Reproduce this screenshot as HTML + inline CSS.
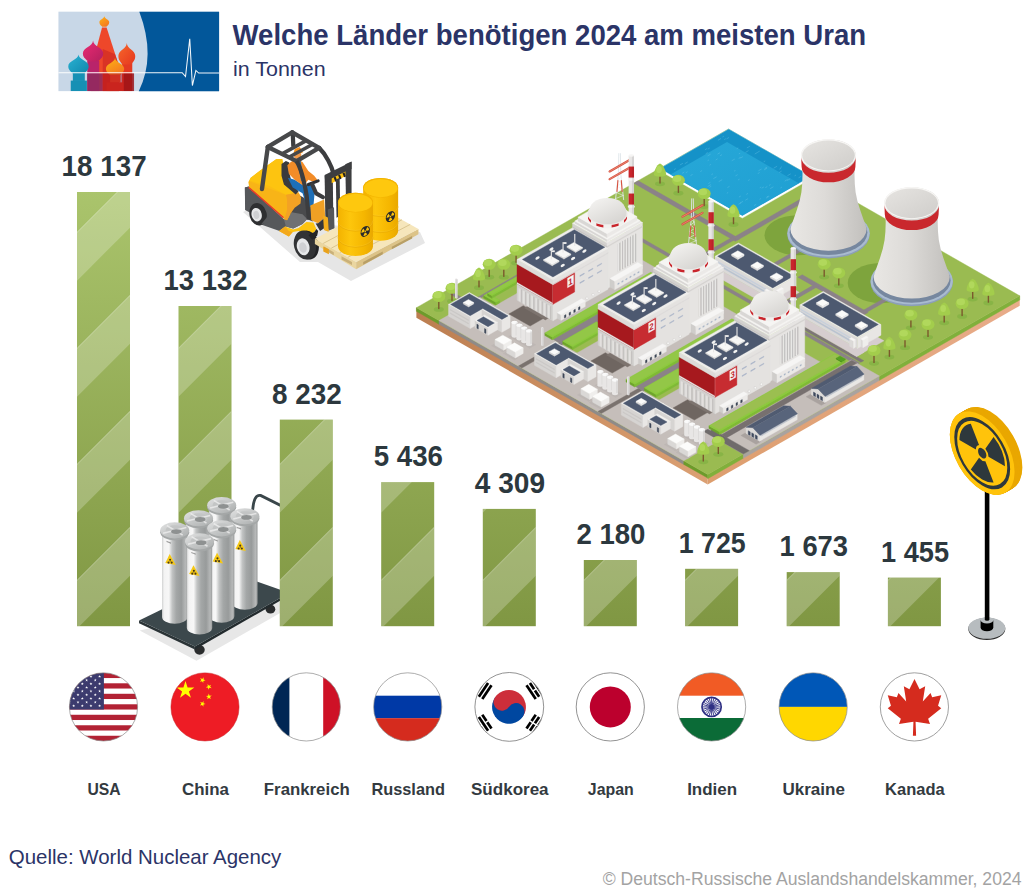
<!DOCTYPE html>
<html lang="de"><head><meta charset="utf-8"><title>Welche Länder benötigen 2024 am meisten Uran</title>
<style>html,body{margin:0;padding:0;background:#fff}body{width:1024px;height:893px;overflow:hidden}svg{display:block}text{font-family:"Liberation Sans",sans-serif}</style></head><body>
<svg width="1024" height="893" viewBox="0 0 1024 893">
<defs>
<linearGradient id="barg" gradientUnits="userSpaceOnUse" x1="0" y1="192" x2="0" y2="626">
<stop offset="0" stop-color="#aac46c"/><stop offset="1" stop-color="#809743"/></linearGradient>
</defs>
<rect width="1024" height="893" fill="#fff"/>
<g transform="translate(50 5) scale(0.17578)">
<defs><clipPath id="lgc"><rect x="48" y="38" width="914" height="452"/></clipPath><linearGradient id="lgt" x1="0" y1="0" x2="1" y2="1"><stop offset="0" stop-color="#2bb3d3"/><stop offset="1" stop-color="#0f87ad"/></linearGradient><linearGradient id="lgm" x1="0" y1="0" x2="1" y2="1"><stop offset="0" stop-color="#ec2a72"/><stop offset="1" stop-color="#b3205f"/></linearGradient><linearGradient id="lgr" x1="0" y1="0" x2="1" y2="1"><stop offset="0" stop-color="#f7682a"/><stop offset="1" stop-color="#e5371f"/></linearGradient><linearGradient id="lgy" x1="0" y1="0" x2="0.6" y2="1"><stop offset="0" stop-color="#fdb515"/><stop offset="1" stop-color="#f47a20"/></linearGradient></defs>
<rect x="48" y="38" width="914" height="452" fill="#c8d7e7" />
<path d="M508 38 Q604 290 505 490 L962 490 L962 38 Z" fill="#02579a"/>
<g clip-path="url(#lgc)">
<polygon points="296,128 322,128 392,345 392,490 232,490 232,370" fill="#ee472a"/>
<polygon points="300,250 370,280 392,345 392,490 300,490" fill="#d93325"/>
<path d="M309 62 C308 78.2 281 81.8 281 98 C281 113.6 294 117.5 297 124 L321 124 C324 117.5 337 113.6 337 98 C337 81.8 310 78.2 309 62 Z" fill="url(#lgy)"/>
<rect x="410" y="330" width="58" height="160" fill="#e43a22" />
<path d="M437 216 C436 249.3 389 256.7 389 290 C389 318.8 407 326 410 338 L464 338 C467 326 485 318.8 485 290 C485 256.7 438 249.3 437 216 Z" fill="url(#lgr)"/>
<rect x="212" y="318" width="68" height="172" fill="#b9246a" />
<path d="M245 202 C244 235.3 187 242.7 187 276 C187 303.6 212 310.5 215 322 L275 322 C278 310.5 303 303.6 303 276 C303 242.7 246 235.3 245 202 Z" fill="url(#lgm)"/>
<rect x="130" y="380" width="68" height="52" fill="#1690b4" />
<rect x="118" y="430" width="92" height="60" fill="#1690b4" />
<path d="M162 282 C161 311.7 104 318.3 104 348 C104 372 123 378 126 388 L198 388 C201 378 220 372 220 348 C220 318.3 163 311.7 162 282 Z" fill="url(#lgt)"/>
<rect x="342" y="392" width="58" height="50" fill="#f0532a" />
<rect x="322" y="440" width="96" height="50" fill="#e43a22" />
<path d="M370 300 C369 327.9 318 334.1 318 362 C318 383.6 337 389 340 398 L400 398 C403 389 422 383.6 422 362 C422 334.1 371 327.9 370 300 Z" fill="url(#lgy)"/>
<rect x="212" y="388" width="88" height="102" fill="#8e2a5e" fill-opacity="0.85"/>
<rect x="300" y="388" width="178" height="102" fill="#b5121b" fill-opacity="0.55"/>
<rect x="420" y="388" width="58" height="102" fill="#8e0f14" fill-opacity="0.6"/>
</g>
<path d="M48 385 L752 385 L771 407 L795 192 L810 458 L830 372 L846 387 L962 387" fill="none" stroke="#fff" stroke-width="6" stroke-linejoin="miter" stroke-opacity="0.95"/>
</g>
<text x="232.6" y="44.9" font-size="29.2" fill="#2b3467" font-weight="bold" text-anchor="start" textLength="633.5" lengthAdjust="spacingAndGlyphs">Welche Länder benötigen 2024 am meisten Uran</text>
<text x="233" y="76.4" font-size="20.8" fill="#2b3467" font-weight="normal" text-anchor="start" textLength="92.6" lengthAdjust="spacingAndGlyphs">in Tonnen</text>
<text x="8.8" y="864.3" font-size="20.3" fill="#2b3467" font-weight="normal" text-anchor="start" textLength="272.5" lengthAdjust="spacingAndGlyphs">Quelle: World Nuclear Agency</text>
<text x="602.7" y="884.7" font-size="18" fill="#a3a3a3" font-weight="normal" text-anchor="start" textLength="418.8" lengthAdjust="spacingAndGlyphs">© Deutsch-Russische Auslandshandelskammer, 2024</text>
<g id="plant" stroke-width="0.4" stroke-linejoin="round">
<defs><linearGradient id="soilL" gradientUnits="userSpaceOnUse" x1="416.4" y1="0" x2="707.7" y2="0"><stop offset="0" stop-color="#bc7e50"/><stop offset="1" stop-color="#dba073"/></linearGradient><linearGradient id="soilR" gradientUnits="userSpaceOnUse" x1="707" y1="0" x2="1020" y2="0"><stop offset="0" stop-color="#dd9e6e"/><stop offset="1" stop-color="#e8ac8a"/></linearGradient><linearGradient id="ctg" x1="0" y1="0" x2="1" y2="0"><stop offset="0" stop-color="#e9e7e4"/><stop offset="0.45" stop-color="#dddbd8"/><stop offset="1" stop-color="#c2c0bd"/></linearGradient><linearGradient id="cti" x1="0" y1="0" x2="1" y2="1"><stop offset="0" stop-color="#e6e4e1"/><stop offset="1" stop-color="#cfcdca"/></linearGradient><linearGradient id="domeg" x1="0.2" y1="0" x2="0.9" y2="1"><stop offset="0" stop-color="#f3f2f0"/><stop offset="1" stop-color="#d4d2cf"/></linearGradient><linearGradient id="poolg" x1="0" y1="0" x2="1" y2="1"><stop offset="0" stop-color="#27a8d8"/><stop offset="1" stop-color="#1f9fd2"/></linearGradient></defs><polygon points="416.4,317.7 707.7,484.49 707.7,474.49 416.4,307.7" fill="url(#soilL)"/><polygon points="707.7,484.49 1019.75,305.82 1019.75,295.82 707.7,474.49" fill="url(#soilR)"/><polygon points="416.4,311.3 438.97,324.22 438.97,320.62 416.4,307.7" fill="#6c9b2b" stroke="#6c9b2b"/><polygon points="438.97,324.22 683.74,464.38 683.74,460.78 438.97,320.62" fill="#8e8b89" stroke="#8e8b89"/><polygon points="683.74,464.38 707.7,478.09 707.7,474.49 683.74,460.78" fill="#6c9b2b" stroke="#6c9b2b"/><polygon points="707.7,478.69 743.29,458.32 743.29,454.12 707.7,474.49" fill="#80b03b" stroke="#80b03b"/><polygon points="743.29,458.32 879.56,380.29 879.56,376.09 743.29,454.12" fill="#a8a3a0" stroke="#a8a3a0"/><polygon points="879.56,380.29 1019.75,300.02 1019.75,295.82 879.56,376.09" fill="#80b03b" stroke="#80b03b"/><polygon points="416.4,307.7 728.45,129.03 1019.75,295.82 707.7,474.49" fill="#9abb51" stroke="#9abb51"/>
<polygon points="657.88,169.73 728.71,129.18 813.16,177.54 742.33,218.09" fill="#ffffff" stroke="#ffffff"/><polygon points="660.13,168.44 728.71,129.18 810.91,176.24 742.33,215.51" fill="#1592c8" stroke="#1592c8"/><polygon points="670.55,174.4 726.97,142.1 798.75,183.2 742.33,215.51" fill="url(#poolg)"/><path d="M690.45 175.64l2.16 -1.24M682.05 173.38l2.17 -1.24M784.72 181.1l2.96 -1.7M715.71 159.94l1.9 -1.09M685.81 172.77l1.77 -1.01M787.18 180.53l3.05 -1.75M738.9 197.1l1.97 -1.13M758.41 170.8l3.16 -1.81M738.47 204.28l2.62 -1.5M748.08 180.61l1.69 -0.97M707.69 186.47l3.33 -1.91M765.37 187.61l1.95 -1.12M770.17 188.64l3.22 -1.84M761.66 188.21l2.2 -1.26M737.99 180.05l1.65 -0.95M738.81 153.97l1.4 -0.8M707.79 149.17l1.91 -1.09M735.54 175.85l2.05 -1.17M754.01 205.6l2.2 -1.26M720.08 155.76l1.9 -1.09M738.68 158.46l2 -1.14M763.67 161.82l1.52 -0.87M684.81 163.66l2.96 -1.7M727.48 187.5l2.02 -1.16M707.62 160.71l1.39 -0.8M773.73 168.16l3.37 -1.93M780.47 167.57l1.34 -0.77M746.9 147.93l2.98 -1.71M754.77 154.01l2.65 -1.52M746.3 194.38l1.72 -0.98M708.31 183.55l2.13 -1.22M759.56 199.33l1.32 -0.76M679.92 164.99l3 -1.72M711.46 174.65l1.51 -0.87M766.7 196.98l1.75 -1M674.09 169.6l1.67 -0.96M726.83 193.23l1.39 -0.8M718.69 181.66l3.47 -1.99M707.67 155.85l2.98 -1.71M757.38 152.42l2.34 -1.34M709.57 165.19l1.38 -0.79M713.38 178.65l3.23 -1.85M759.77 187.81l1.37 -0.78M700.3 171.59l1.75 -1M736.67 148.77l1.61 -0.92M726.5 138.89l2.53 -1.45M766.1 198.09l3.26 -1.86M764.05 169.93l2.92 -1.67M709.48 187.25l1.76 -1.01M787.4 175.72l3.31 -1.89M731.75 160.75l3.04 -1.74M764.63 168.59l2.45 -1.4M757.73 173.61l1.88 -1.08M794.56 175.89l1.46 -0.84M798.57 177.8l2.75 -1.58M724.22 139.6l1.58 -0.9M780.48 187.94l1.43 -0.82M717.54 154.13l2.54 -1.45M779.39 169.21l1.78 -1.02M722.5 136.99l1.33 -0.76M739.97 203.11l3.06 -1.75M779.15 172.52l2.5 -1.43M745.35 200.22l2.76 -1.58M745.56 152.33l2.98 -1.71M734.09 171.18l1.36 -0.78M704.93 149.75l2.36 -1.35M768.99 185.47l1.6 -0.92M740.45 158.04l2.44 -1.4M717.91 140.25l3.1 -1.77M705.71 153.74l2.13 -1.22" stroke="#7fd0ee" stroke-width="0.5" stroke-opacity="0.6" fill="none"/>
<ellipse cx="797.5" cy="235.2" rx="33" ry="20" fill="#7ea43d"/>
<ellipse cx="880.7" cy="283" rx="33" ry="20" fill="#7ea43d"/>
<polygon points="633.83,183.2 638.17,180.72 739.73,238.87 735.39,241.35" fill="#8b8288" stroke="#8b8288"/><polygon points="797.89,277.13 802.23,274.65 868.19,312.42 863.85,314.91" fill="#8b8288" stroke="#8b8288"/><polygon points="773.15,263.47 803.53,246.07 807,248.06 776.62,265.45" fill="#8b8288" stroke="#8b8288"/><polygon points="733.22,237.62 804.4,196.87 808.74,199.35 737.56,240.11" fill="#8b8288" stroke="#8b8288"/><polygon points="859.51,312.42 885.12,297.76 888.59,299.75 862.99,314.41" fill="#8b8288" stroke="#8b8288"/><polygon points="612.74,225.1 615.87,223.31 859.77,362.97 856.65,364.76" fill="#8b8288" stroke="#8b8288"/><polygon points="764.47,307.2 767.51,305.46 863.85,360.63 860.82,362.37" fill="#7d7677" stroke="#7d7677"/><polygon points="767.07,311.68 814.81,284.34 818.28,286.33 770.54,313.66" fill="#8b8288" stroke="#8b8288"/><polygon points="684.61,264.46 732.35,237.13 735.82,239.11 688.08,266.45" fill="#8b8288" stroke="#8b8288"/><polygon points="467.44,303.13 611.53,220.63 613.7,221.87 469.61,304.37" fill="#8b8288" stroke="#8b8288"/><polygon points="450.25,294.28 453.29,292.54 471.78,303.13 468.74,304.87" fill="#8b8288" stroke="#8b8288"/>
<polygon points="438.97,320.62 479.76,297.26 724.54,437.42 683.74,460.78" fill="#c5beba" stroke="#c5beba"/><polygon points="714.99,437.91 851.27,359.88 879.56,376.09 743.29,454.12" fill="#c5beba" stroke="#c5beba"/><polygon points="721.5,434.68 851.7,360.13 856.91,363.12 726.71,437.67" fill="#77706f" stroke="#77706f"/><polygon points="703.71,431.45 709.78,427.97 749.36,450.64 743.29,454.12" fill="#6f6b6b" stroke="#6f6b6b"/><polygon points="518.39,366.1 559.19,342.74 562.66,344.73 521.86,368.09" fill="#7a726e" stroke="#7a726e"/><polygon points="597.81,411.57 638.61,388.21 642.08,390.2 601.28,413.56" fill="#7a726e" stroke="#7a726e"/><polygon points="494.09,306.46 608.66,240.85 660.74,270.67 546.17,336.28" fill="#c5beba" stroke="#c5beba"/><polygon points="508.84,313.91 523.25,305.66 544.52,317.84 530.11,326.09" fill="#6f6661" stroke="#6f6661"/><polygon points="524.47,307.95 527.94,305.96 548.77,317.89 545.3,319.88" fill="#7d746f" stroke="#7d746f"/><polygon points="576.2,353.47 690.77,287.87 742.85,317.69 628.28,383.29" fill="#c5beba" stroke="#c5beba"/><polygon points="590.95,360.93 605.36,352.68 626.63,364.86 612.22,373.11" fill="#6f6661" stroke="#6f6661"/><polygon points="606.58,354.96 610.05,352.98 630.88,364.9 627.41,366.89" fill="#7d746f" stroke="#7d746f"/><polygon points="658.31,400.49 772.89,334.89 824.97,364.71 710.39,430.31" fill="#c5beba" stroke="#c5beba"/><polygon points="673.07,407.94 687.48,399.69 708.74,411.87 694.33,420.12" fill="#6f6661" stroke="#6f6661"/><polygon points="688.69,401.98 692.16,399.99 713,411.92 709.52,413.91" fill="#7d746f" stroke="#7d746f"/><polygon points="705.01,269.68 712.39,265.45 779.22,303.72 771.85,307.95" fill="#d6cdcf" stroke="#d6cdcf"/><polygon points="764.9,303.97 792.24,288.32 799.19,292.29 771.85,307.95" fill="#d6cdcf" stroke="#d6cdcf"/><polygon points="789.81,318.24 797.19,314.01 864.03,352.28 856.65,356.51" fill="#d6cdcf" stroke="#d6cdcf"/><polygon points="849.71,352.53 877.05,336.87 883.99,340.85 856.65,356.51" fill="#d6cdcf" stroke="#d6cdcf"/>
<polygon points="483.67,298.01 495.82,304.97 495.82,302.37 483.67,295.41" fill="#6ea42c" stroke="#6ea42c"/><polygon points="495.82,304.97 499.73,302.73 499.73,300.13 495.82,302.37" fill="#7fba36" stroke="#7fba36"/><polygon points="483.67,295.41 487.58,293.17 499.73,300.13 495.82,302.37" fill="#8ccb3c" stroke="#8ccb3c"/><polygon points="485.58,294.91 487.58,293.77 497.82,299.63 495.82,300.78" fill="#93c747" stroke="#93c747"/><polygon points="487.58,295.77 491.92,298.26 491.92,295.66 487.58,293.17" fill="#6ea42c" stroke="#6ea42c"/><polygon points="491.92,298.26 525.77,278.87 525.77,276.27 491.92,295.66" fill="#7fba36" stroke="#7fba36"/><polygon points="487.58,293.17 521.43,273.79 525.77,276.27 491.92,295.66" fill="#8ccb3c" stroke="#8ccb3c"/><polygon points="489.49,292.67 521.43,274.39 523.86,275.78 491.92,294.07" fill="#93c747" stroke="#93c747"/><polygon points="553.11,339.26 658.14,279.12 666.82,284.09 561.79,344.23" fill="#8b8288" stroke="#8b8288"/><polygon points="544.86,335.53 552.24,339.76 552.24,337.16 544.86,332.93" fill="#6ea42c" stroke="#6ea42c"/><polygon points="552.24,339.76 658.14,279.12 658.14,276.52 552.24,337.16" fill="#7fba36" stroke="#7fba36"/><polygon points="544.86,332.93 650.76,272.3 658.14,276.52 552.24,337.16" fill="#8ccb3c" stroke="#8ccb3c"/><polygon points="546.77,332.43 650.76,272.89 656.23,276.03 552.24,335.57" fill="#93c747" stroke="#93c747"/><polygon points="562.66,343.73 572.64,349.45 572.64,346.85 562.66,341.13" fill="#6ea42c" stroke="#6ea42c"/><polygon points="572.64,349.45 606.49,330.06 606.49,327.46 572.64,346.85" fill="#7fba36" stroke="#7fba36"/><polygon points="562.66,341.13 596.51,321.75 606.49,327.46 572.64,346.85" fill="#8ccb3c" stroke="#8ccb3c"/><polygon points="564.57,340.64 596.51,322.35 604.58,326.97 572.64,345.26" fill="#93c747" stroke="#93c747"/><polygon points="635.57,386.47 740.6,326.34 748.41,330.81 643.38,390.95" fill="#8b8288" stroke="#8b8288"/><polygon points="626.02,382 634.7,386.97 634.7,384.37 626.02,379.4" fill="#6ea42c" stroke="#6ea42c"/><polygon points="634.7,386.97 740.6,326.34 740.6,323.74 634.7,384.37" fill="#7fba36" stroke="#7fba36"/><polygon points="626.02,379.4 731.92,318.77 740.6,323.74 634.7,384.37" fill="#8ccb3c" stroke="#8ccb3c"/><polygon points="627.93,378.9 731.92,319.36 738.69,323.24 634.7,382.78" fill="#93c747" stroke="#93c747"/><polygon points="644.25,390.45 655.97,397.16 655.97,394.56 644.25,387.85" fill="#6ea42c" stroke="#6ea42c"/><polygon points="655.97,397.16 689.82,377.78 689.82,375.18 655.97,394.56" fill="#7fba36" stroke="#7fba36"/><polygon points="644.25,387.85 678.1,368.47 689.82,375.18 655.97,394.56" fill="#8ccb3c" stroke="#8ccb3c"/><polygon points="646.16,387.35 678.1,369.06 687.91,374.68 655.97,392.97" fill="#93c747" stroke="#93c747"/><polygon points="708.92,428.47 719.33,434.44 719.33,431.83 708.92,425.87" fill="#6ea42c" stroke="#6ea42c"/><polygon points="719.33,434.44 845.19,362.37 845.19,359.77 719.33,431.83" fill="#7fba36" stroke="#7fba36"/><polygon points="708.92,425.87 834.78,353.81 845.19,359.77 719.33,431.83" fill="#8ccb3c" stroke="#8ccb3c"/><polygon points="711.17,425.18 834.78,354.4 842.94,359.07 719.33,429.85" fill="#9bbf50" stroke="#9bbf50"/><polygon points="836.08,359.02 841.29,362.01 841.29,361.21 836.08,358.22" fill="#3f8415" stroke="#3f8415"/><polygon points="841.29,362.01 845.19,359.77 845.19,358.97 841.29,361.21" fill="#4a951b" stroke="#4a951b"/><polygon points="836.08,358.22 839.98,355.99 845.19,358.97 841.29,361.21" fill="#55a022" stroke="#55a022"/>
<g stroke-linecap="round" fill="none"><path d="M615.6 198.6 L618.4 173.85 L618.8 153.6 M623.6 199.6 L620.8 173.85 L620.4 153.6" stroke="#dfe5ea" stroke-width="0.9"/><path d="M615.6 198.6L623.27 195.5M623.27 195.5L616.27 192.4M616.27 192.4L622.6 189.3M622.6 189.3L616.93 186.2M616.93 186.2L621.93 183.1M621.93 183.1L617.6 180M617.6 180L621.27 176.9M621.27 176.9L618.27 173.8M618.27 173.8L620.6 170.7" stroke="#e9eef2" stroke-width="0.6"/><path d="M617 191.4 L617.9 180.6 M622.2 191.4 L621.3 180.6" stroke="#d8523f" stroke-width="1.1"/><path d="M609.6 179.1 L629.6 167.7" stroke="#d8523f" stroke-width="2.2"/><path d="M609.6 179.1 L629.6 167.7" stroke="#f0b0a0" stroke-width="0.5"/><path d="M609.6 171.45 L629.6 160.05" stroke="#d8523f" stroke-width="2.2"/><path d="M609.6 171.45 L629.6 160.05" stroke="#f0b0a0" stroke-width="0.5"/></g>
<rect x="628.62" y="155.55" width="5.4" height="60.5" fill="#e9e7e6"/><rect x="628.62" y="166.55" width="5.4" height="11" fill="#c9252c"/><rect x="628.62" y="193.55" width="5.4" height="11" fill="#c9252c"/><rect x="627.82" y="178.55" width="7" height="2.2" rx="1" fill="#f4f3f2"/><rect x="627.82" y="205.55" width="7" height="2.2" rx="1" fill="#f4f3f2"/><rect x="631.92" y="155.55" width="2.1" height="60.5" fill="#000" fill-opacity="0.08"/><ellipse cx="631.32" cy="155.55" rx="2.7" ry="1.3" fill="#f6f5f4"/>
<ellipse cx="660" cy="183.8" rx="5" ry="2.4" fill="#88b446"/><rect x="659.3" y="173.5" width="1.4" height="10" fill="#7b5a2c"/><path d="M660 163.5 C663.5 164.5 666.6 172.5 666 175 C665 177.2 655 177.2 654 175 C653.4 172.5 656.5 164.5 660 163.5 Z" fill="#a3cd4c"/><ellipse cx="659" cy="169.5" rx="2.8" ry="3.6" fill="#b1d85c"/>
<ellipse cx="678.4" cy="193.2" rx="5" ry="2.4" fill="#88b446"/><rect x="677.7" y="182.9" width="1.4" height="10" fill="#7b5a2c"/><ellipse cx="678.4" cy="180.3" rx="6.5" ry="5.5" fill="#a3cd4c"/><ellipse cx="677.1" cy="178.7" rx="4.2" ry="3.3" fill="#b1d85c"/>
<ellipse cx="704.2" cy="206.5" rx="5" ry="2.4" fill="#88b446"/><rect x="703.5" y="196.2" width="1.4" height="10" fill="#7b5a2c"/><ellipse cx="704.2" cy="193.6" rx="6.5" ry="5.5" fill="#a3cd4c"/><ellipse cx="702.9" cy="192" rx="4.2" ry="3.3" fill="#b1d85c"/>
<ellipse cx="733.5" cy="224.5" rx="5" ry="2.4" fill="#88b446"/><rect x="732.8" y="214.2" width="1.4" height="10" fill="#7b5a2c"/><path d="M733.5 204.2 C737 205.2 740.1 213.2 739.5 215.7 C738.5 217.9 728.5 217.9 727.5 215.7 C726.9 213.2 730 205.2 733.5 204.2 Z" fill="#a3cd4c"/><ellipse cx="732.5" cy="210.2" rx="2.8" ry="3.6" fill="#b1d85c"/>
<ellipse cx="828.5" cy="234.8" rx="41.2" ry="23.6" fill="#8c9fb8"/><ellipse cx="828.5" cy="233.2" rx="41.2" ry="23.6" fill="#a9bbd0"/><ellipse cx="828.5" cy="232.6" rx="38.9" ry="22.3" fill="#76879f"/><path d="M790.4 229 L791.3 225.8 L793.7 219 L796.8 210.1 L799.6 201 L801.4 192.2 L802.2 184 L802.5 175 L802.3 167 L801.8 161 L801.1 155.2 A27.4 15.8 0 0 1 855.9 155.2 L855.2 161 L854.7 167 L854.5 175 L854.8 184 L855.6 192.2 L857.4 201 L860.2 210.1 L863.3 219 L865.7 225.8 L866.6 229 A38.1 21.8 0 0 1 790.4 229 Z" fill="url(#ctg)"/><path d="M801.6 166.8 A26.9 15.52 0 0 0 855.4 166.8 L855.8 157 A27.3 15.75 0 0 1 801.2 157 Z" fill="#c9282d"/><ellipse cx="828.5" cy="155.2" rx="27.6" ry="16.0" fill="#f7f6f4"/><ellipse cx="828.5" cy="155.5" rx="26.3" ry="14.9" fill="url(#cti)"/>
<ellipse cx="824.2" cy="277.1" rx="5" ry="2.4" fill="#88b446"/><rect x="823.5" y="266.8" width="1.4" height="10" fill="#7b5a2c"/><ellipse cx="824.2" cy="264.2" rx="6.5" ry="5.5" fill="#a3cd4c"/><ellipse cx="822.9" cy="262.6" rx="4.2" ry="3.3" fill="#b1d85c"/>
<ellipse cx="838.8" cy="285.8" rx="5" ry="2.4" fill="#88b446"/><rect x="838.1" y="275.5" width="1.4" height="10" fill="#7b5a2c"/><ellipse cx="838.8" cy="272.9" rx="6.5" ry="5.5" fill="#a3cd4c"/><ellipse cx="837.5" cy="271.3" rx="4.2" ry="3.3" fill="#b1d85c"/>
<ellipse cx="911.7" cy="282.6" rx="41.2" ry="23.6" fill="#8c9fb8"/><ellipse cx="911.7" cy="281" rx="41.2" ry="23.6" fill="#a9bbd0"/><ellipse cx="911.7" cy="280.4" rx="38.9" ry="22.3" fill="#76879f"/><path d="M873.6 276.8 L874.5 273.6 L876.9 266.8 L880 257.9 L882.8 248.8 L884.6 240 L885.4 231.8 L885.7 222.8 L885.5 214.8 L885 208.8 L884.3 203 A27.4 15.8 0 0 1 939.1 203 L938.4 208.8 L937.9 214.8 L937.7 222.8 L938 231.8 L938.8 240 L940.6 248.8 L943.4 257.9 L946.5 266.8 L948.9 273.6 L949.8 276.8 A38.1 21.8 0 0 1 873.6 276.8 Z" fill="url(#ctg)"/><path d="M884.8 214.6 A26.9 15.52 0 0 0 938.6 214.6 L939 204.8 A27.3 15.75 0 0 1 884.4 204.8 Z" fill="#c9282d"/><ellipse cx="911.7" cy="203" rx="27.6" ry="16.0" fill="#f7f6f4"/><ellipse cx="911.7" cy="203.3" rx="26.3" ry="14.9" fill="url(#cti)"/>
<ellipse cx="516.1" cy="263.1" rx="5" ry="2.4" fill="#88b446"/><rect x="515.4" y="252.8" width="1.4" height="10" fill="#7b5a2c"/><ellipse cx="516.1" cy="250.2" rx="6.5" ry="5.5" fill="#a3cd4c"/><ellipse cx="514.8" cy="248.6" rx="4.2" ry="3.3" fill="#b1d85c"/>
<ellipse cx="503.8" cy="277.2" rx="5" ry="2.4" fill="#88b446"/><rect x="503.1" y="266.9" width="1.4" height="10" fill="#7b5a2c"/><ellipse cx="503.8" cy="264.3" rx="6.5" ry="5.5" fill="#a3cd4c"/><ellipse cx="502.5" cy="262.7" rx="4.2" ry="3.3" fill="#b1d85c"/>
<ellipse cx="489.2" cy="277.2" rx="5" ry="2.4" fill="#88b446"/><rect x="488.5" y="266.9" width="1.4" height="10" fill="#7b5a2c"/><ellipse cx="489.2" cy="264.3" rx="6.5" ry="5.5" fill="#a3cd4c"/><ellipse cx="487.9" cy="262.7" rx="4.2" ry="3.3" fill="#b1d85c"/>
<ellipse cx="479" cy="287.7" rx="5" ry="2.4" fill="#88b446"/><rect x="478.3" y="277.4" width="1.4" height="10" fill="#7b5a2c"/><path d="M479 267.4 C482.5 268.4 485.6 276.4 485 278.9 C484 281.1 474 281.1 473 278.9 C472.4 276.4 475.5 268.4 479 267.4 Z" fill="#a3cd4c"/><ellipse cx="478" cy="273.4" rx="2.8" ry="3.6" fill="#b1d85c"/>
<ellipse cx="452" cy="301.2" rx="5" ry="2.4" fill="#88b446"/><rect x="451.3" y="290.9" width="1.4" height="10" fill="#7b5a2c"/><ellipse cx="452" cy="288.3" rx="6.5" ry="5.5" fill="#a3cd4c"/><ellipse cx="450.7" cy="286.7" rx="4.2" ry="3.3" fill="#b1d85c"/>
<ellipse cx="438.8" cy="309.4" rx="5" ry="2.4" fill="#88b446"/><rect x="438.1" y="299.1" width="1.4" height="10" fill="#7b5a2c"/><ellipse cx="438.8" cy="296.5" rx="6.5" ry="5.5" fill="#a3cd4c"/><ellipse cx="437.5" cy="294.9" rx="4.2" ry="3.3" fill="#b1d85c"/>
<rect x="455.04" y="278.41" width="2.4" height="20" rx="1.2" fill="#e4e2e2"/><rect x="456.44" y="279.41" width="1" height="19" fill="#cfcdcd"/>
<polygon points="714.99,266.95 772.71,300 772.71,289.4 714.99,256.35" fill="#dbd9d8" stroke="#dbd9d8"/><polygon points="715.86,264.24 765.77,292.82 765.77,291.42 715.86,262.84" fill="#b8c2d0" stroke="#b8c2d0"/><polygon points="715.86,261.44 765.77,290.02 765.77,288.82 715.86,260.24" fill="#c6cfdb" stroke="#c6cfdb"/><polygon points="772.71,300 796.15,286.58 796.15,275.98 772.71,289.4" fill="#e8e6e4" stroke="#e8e6e4"/><polygon points="714.99,256.35 738.43,242.93 796.15,275.98 772.71,289.4" fill="#efeeec" stroke="#efeeec"/><polygon points="717.6,256.35 738.43,244.42 793.55,275.98 772.71,287.91" fill="#4d5970" stroke="#4d5970"/><polygon points="731.57,255.9 737.82,259.48 737.82,257.88 731.57,254.3" fill="#d9d7d5" stroke="#d9d7d5"/><polygon points="737.82,259.48 744.07,255.9 744.07,254.3 737.82,257.88" fill="#ecebea" stroke="#ecebea"/><polygon points="731.57,254.3 737.82,250.72 744.07,254.3 737.82,257.88" fill="#fbfbfa" stroke="#fbfbfa"/><polygon points="750.93,266.98 757.18,270.56 757.18,268.96 750.93,265.38" fill="#d9d7d5" stroke="#d9d7d5"/><polygon points="757.18,270.56 763.43,266.98 763.43,265.38 757.18,268.96" fill="#ecebea" stroke="#ecebea"/><polygon points="750.93,265.38 757.18,261.8 763.43,265.38 757.18,268.96" fill="#fbfbfa" stroke="#fbfbfa"/><polygon points="770.28,278.06 776.53,281.64 776.53,280.04 770.28,276.46" fill="#d9d7d5" stroke="#d9d7d5"/><polygon points="776.53,281.64 782.78,278.06 782.78,276.46 776.53,280.04" fill="#ecebea" stroke="#ecebea"/><polygon points="770.28,276.46 776.53,272.89 782.78,276.46 776.53,280.04" fill="#fbfbfa" stroke="#fbfbfa"/><polygon points="764.73,297.61 768.63,299.85 768.63,292.35 764.73,290.11" fill="#dcdad8" stroke="#dcdad8"/><polygon points="768.63,299.85 770.54,298.75 770.54,291.25 768.63,292.35" fill="#efeeec" stroke="#efeeec"/><polygon points="764.73,290.11 766.64,289.02 770.54,291.25 768.63,292.35" fill="#f7f6f5" stroke="#f7f6f5"/><polygon points="776.19,298.01 778.1,299.1 778.1,291.6 776.19,290.51" fill="#dcdad8" stroke="#dcdad8"/><polygon points="778.1,299.1 783.3,296.12 783.3,288.62 778.1,291.6" fill="#efeeec" stroke="#efeeec"/><polygon points="776.19,290.51 781.39,287.53 783.3,288.62 778.1,291.6" fill="#f7f6f5" stroke="#f7f6f5"/>
<rect x="708.39" y="201.23" width="5.4" height="60.5" fill="#e9e7e6"/><rect x="708.39" y="212.23" width="5.4" height="11" fill="#c9252c"/><rect x="708.39" y="239.23" width="5.4" height="11" fill="#c9252c"/><rect x="707.59" y="224.23" width="7" height="2.2" rx="1" fill="#f4f3f2"/><rect x="707.59" y="251.23" width="7" height="2.2" rx="1" fill="#f4f3f2"/><rect x="711.69" y="201.23" width="2.1" height="60.5" fill="#000" fill-opacity="0.08"/><ellipse cx="711.09" cy="201.23" rx="2.7" ry="1.3" fill="#f6f5f4"/>
<g stroke-linecap="round" fill="none"><path d="M688.5 243.8 L691.3 219.05 L691.7 198.8 M696.5 244.8 L693.7 219.05 L693.3 198.8" stroke="#dfe5ea" stroke-width="0.9"/><path d="M688.5 243.8L696.17 240.7M696.17 240.7L689.17 237.6M689.17 237.6L695.5 234.5M695.5 234.5L689.83 231.4M689.83 231.4L694.83 228.3M694.83 228.3L690.5 225.2M690.5 225.2L694.17 222.1M694.17 222.1L691.17 219M691.17 219L693.5 215.9" stroke="#e9eef2" stroke-width="0.6"/><path d="M689.9 236.6 L690.8 225.8 M695.1 236.6 L694.2 225.8" stroke="#d8523f" stroke-width="1.1"/><path d="M682.5 224.3 L702.5 212.9" stroke="#d8523f" stroke-width="2.2"/><path d="M682.5 224.3 L702.5 212.9" stroke="#f0b0a0" stroke-width="0.5"/><path d="M682.5 216.65 L702.5 205.25" stroke="#d8523f" stroke-width="2.2"/><path d="M682.5 216.65 L702.5 205.25" stroke="#f0b0a0" stroke-width="0.5"/></g>
<polygon points="572.47,269.03 606.93,288.76 606.93,242.86 572.47,223.13" fill="#d3d1cf" stroke="#d3d1cf"/><polygon points="606.93,288.76 642.51,268.39 642.51,222.49 606.93,242.86" fill="#e6e4e2" stroke="#e6e4e2"/><polygon points="617.82,271.58 636.05,261.14 636.05,233.64 617.82,244.08" fill="#d6d4d2" stroke="#d6d4d2"/><polygon points="618.43,271.23 619.56,270.58 619.56,242.78 618.43,243.43" fill="#f1f0ee" stroke="#f1f0ee"/><polygon points="619.56,270.58 620.16,270.23 620.16,242.73 619.56,243.08" fill="#bebcba" stroke="#bebcba"/><polygon points="621.03,269.74 622.16,269.09 622.16,241.29 621.03,241.94" fill="#f1f0ee" stroke="#f1f0ee"/><polygon points="622.16,269.09 622.77,268.74 622.77,241.24 622.16,241.59" fill="#bebcba" stroke="#bebcba"/><polygon points="623.63,268.25 624.76,267.6 624.76,239.8 623.63,240.45" fill="#f1f0ee" stroke="#f1f0ee"/><polygon points="624.76,267.6 625.37,267.25 625.37,239.75 624.76,240.1" fill="#bebcba" stroke="#bebcba"/><polygon points="626.24,266.76 627.37,266.11 627.37,238.31 626.24,238.96" fill="#f1f0ee" stroke="#f1f0ee"/><polygon points="627.37,266.11 627.97,265.76 627.97,238.26 627.37,238.61" fill="#bebcba" stroke="#bebcba"/><polygon points="628.84,265.26 629.97,264.62 629.97,236.82 628.84,237.46" fill="#f1f0ee" stroke="#f1f0ee"/><polygon points="629.97,264.62 630.58,264.27 630.58,236.77 629.97,237.12" fill="#bebcba" stroke="#bebcba"/><polygon points="631.45,263.77 632.58,263.13 632.58,235.33 631.45,235.97" fill="#f1f0ee" stroke="#f1f0ee"/><polygon points="632.58,263.13 633.18,262.78 633.18,235.28 632.58,235.63" fill="#bebcba" stroke="#bebcba"/><polygon points="634.05,262.28 635.18,261.64 635.18,233.84 634.05,234.48" fill="#f1f0ee" stroke="#f1f0ee"/><polygon points="635.18,261.64 635.79,261.29 635.79,233.79 635.18,234.14" fill="#bebcba" stroke="#bebcba"/><polygon points="609.96,287.02 614.74,289.76 614.74,281.26 609.96,278.52" fill="#cfcdcb" stroke="#cfcdcb"/><polygon points="614.74,289.76 642.51,273.85 642.51,265.35 614.74,281.26" fill="#eae8e6" stroke="#eae8e6"/><polygon points="609.96,278.52 637.74,262.62 642.51,265.35 614.74,281.26" fill="#f6f5f4" stroke="#f6f5f4"/><polygon points="617.78,284.62 619.16,283.82 619.16,282.82 617.78,283.62" fill="#a7b3c6" stroke="#a7b3c6"/><polygon points="621.77,282.33 623.16,281.54 623.16,280.54 621.77,281.33" fill="#a7b3c6" stroke="#a7b3c6"/><polygon points="625.76,280.05 627.15,279.25 627.15,278.25 625.76,279.05" fill="#a7b3c6" stroke="#a7b3c6"/><polygon points="629.75,277.76 631.14,276.97 631.14,275.97 629.75,276.76" fill="#a7b3c6" stroke="#a7b3c6"/><polygon points="633.75,275.47 635.14,274.68 635.14,273.68 633.75,274.47" fill="#a7b3c6" stroke="#a7b3c6"/><polygon points="637.74,273.19 639.13,272.39 639.13,271.39 637.74,272.19" fill="#a7b3c6" stroke="#a7b3c6"/><polygon points="572.47,227.63 606.93,247.36 606.93,246.46 572.47,226.73" fill="#c4c2c0" stroke="#c4c2c0"/><polygon points="606.93,247.36 642.51,226.99 642.51,226.09 606.93,246.46" fill="#d4d2d0" stroke="#d4d2d0"/><polygon points="572.47,223.13 608.05,202.76 642.51,222.49 606.93,242.86" fill="#f3f2f0" stroke="#f3f2f0"/><polygon points="574.9,223.13 606.93,241.47 606.93,239.37 574.9,221.03" fill="#d8d6d4" stroke="#d8d6d4"/><polygon points="606.93,241.47 640.08,222.49 640.08,220.39 606.93,239.37" fill="#eae8e6" stroke="#eae8e6"/><polygon points="574.9,221.03 608.05,202.05 640.08,220.39 606.93,239.37" fill="#f5f4f2" stroke="#f5f4f2"/><polygon points="578.02,221.03 606.93,237.58 606.93,233.68 578.02,217.13" fill="#d9d7d5" stroke="#d9d7d5"/><polygon points="606.93,237.58 636.96,220.39 636.96,216.49 606.93,233.68" fill="#ebe9e7" stroke="#ebe9e7"/><polygon points="578.02,217.13 608.05,199.94 636.96,216.49 606.93,233.68" fill="#f6f5f3" stroke="#f6f5f3"/><ellipse cx="607.49" cy="216.81" rx="19.89" ry="11.39" fill="#f1f0ee"/><path d="M587.6 213.41 A19.89 11.39 0 0 0 627.38 213.41 L627.38 216.81 A19.89 11.39 0 0 1 587.6 216.81 Z" fill="#f1f0ee"/><path d="M588.04 218.78 A19.89 11.39 0 0 0 591 222.78 L591 220.08 A19.89 11.39 0 0 1 588.04 216.08 Z" fill="#c9252c"/><path d="M596.37 225.85 A19.89 11.39 0 0 0 603.36 227.55 L603.36 224.85 A19.89 11.39 0 0 1 596.37 223.15 Z" fill="#c9252c"/><path d="M611.62 227.55 A19.89 11.39 0 0 0 618.61 225.85 L618.61 223.15 A19.89 11.39 0 0 1 611.62 224.85 Z" fill="#c9252c"/><path d="M623.98 222.78 A19.89 11.39 0 0 0 626.94 218.78 L626.94 216.08 A19.89 11.39 0 0 1 623.98 220.08 Z" fill="#c9252c"/><ellipse cx="607.49" cy="213.41" rx="19.89" ry="11.39" fill="#e9e7e5"/><path d="M588.83 213.41 C588.83 203.86 595.92 198.01 607.49 198.01 C619.06 198.01 626.15 203.86 626.15 213.41 A18.66 10.68 0 0 1 588.83 213.41 Z" fill="url(#domeg)"/><polygon points="517,300.29 552.94,320.87 552.94,304.37 517,283.79" fill="#d2d0ce" stroke="#d2d0ce"/><polygon points="518.74,300.79 520.99,302.08 520.99,289.58 518.74,288.29" fill="#e3e1df" stroke="#e3e1df"/><polygon points="520.99,302.08 521.6,302.43 521.6,289.93 520.99,289.58" fill="#bfbdbb" stroke="#bfbdbb"/><polygon points="522.9,303.17 525.16,304.47 525.16,291.97 522.9,290.67" fill="#e3e1df" stroke="#e3e1df"/><polygon points="525.16,304.47 525.77,304.81 525.77,292.31 525.16,291.97" fill="#bfbdbb" stroke="#bfbdbb"/><polygon points="527.07,305.56 529.33,306.85 529.33,294.35 527.07,293.06" fill="#e3e1df" stroke="#e3e1df"/><polygon points="529.33,306.85 529.93,307.2 529.93,294.7 529.33,294.35" fill="#bfbdbb" stroke="#bfbdbb"/><polygon points="531.24,307.95 533.49,309.24 533.49,296.74 531.24,295.45" fill="#e3e1df" stroke="#e3e1df"/><polygon points="533.49,309.24 534.1,309.59 534.1,297.09 533.49,296.74" fill="#bfbdbb" stroke="#bfbdbb"/><polygon points="535.4,310.33 537.66,311.62 537.66,299.12 535.4,297.83" fill="#e3e1df" stroke="#e3e1df"/><polygon points="537.66,311.62 538.27,311.97 538.27,299.47 537.66,299.12" fill="#bfbdbb" stroke="#bfbdbb"/><polygon points="539.57,312.72 541.83,314.01 541.83,301.51 539.57,300.22" fill="#e3e1df" stroke="#e3e1df"/><polygon points="541.83,314.01 542.43,314.36 542.43,301.86 541.83,301.51" fill="#bfbdbb" stroke="#bfbdbb"/><polygon points="543.74,315.1 545.99,316.39 545.99,303.89 543.74,302.6" fill="#e3e1df" stroke="#e3e1df"/><polygon points="545.99,316.39 546.6,316.74 546.6,304.24 545.99,303.89" fill="#bfbdbb" stroke="#bfbdbb"/><polygon points="547.9,317.49 550.16,318.78 550.16,306.28 547.9,304.99" fill="#e3e1df" stroke="#e3e1df"/><polygon points="550.16,318.78 550.77,319.13 550.77,306.63 550.16,306.28" fill="#bfbdbb" stroke="#bfbdbb"/><polygon points="517,283.79 552.94,304.37 552.94,284.67 517,264.09" fill="#a6191e" stroke="#a6191e"/><polygon points="517,283.79 552.94,304.37 552.94,303.17 517,282.59" fill="#e8f0ee" stroke="#e8f0ee"/><polygon points="517,264.09 552.94,284.67 552.94,280.07 517,259.49" fill="#dddbd9" stroke="#dddbd9"/><polygon points="552.94,320.87 608.05,289.31 608.05,248.51 552.94,280.07" fill="#e4e2e0" stroke="#e4e2e0"/><polygon points="552.94,304.37 574.64,291.95 574.64,272.25 552.94,284.67" fill="#c72c31" stroke="#c72c31"/><polygon points="552.94,284.87 608.05,253.31 608.05,252.61 552.94,284.17" fill="#dcdad8" stroke="#dcdad8"/><polygon points="567.56,287.75 573.46,284.37 573.46,274.87 567.56,278.25" fill="#f4f4f3" stroke="#f4f4f3"/><text transform="matrix(0.868 -0.497 0 1 570.47 284.73)" font-size="9" font-weight="bold" text-anchor="middle" fill="#c2272d">1</text><polygon points="579.89,283.49 584.23,281 584.23,280.1 579.89,282.59" fill="#a9b4c8" stroke="#a9b4c8"/><polygon points="579.89,276.49 584.23,274 584.23,273.1 579.89,275.59" fill="#a9b4c8" stroke="#a9b4c8"/><polygon points="588.57,278.52 592.91,276.03 592.91,275.13 588.57,277.62" fill="#a9b4c8" stroke="#a9b4c8"/><polygon points="588.57,271.52 592.91,269.03 592.91,268.13 588.57,270.62" fill="#a9b4c8" stroke="#a9b4c8"/><polygon points="597.25,273.55 601.59,271.06 601.59,270.16 597.25,272.65" fill="#a9b4c8" stroke="#a9b4c8"/><polygon points="597.25,266.55 601.59,264.06 601.59,263.16 597.25,265.65" fill="#a9b4c8" stroke="#a9b4c8"/><ellipse cx="586.79" cy="298.29" rx="1.5" ry="1.7" fill="#d9d7d5"/><ellipse cx="586.99" cy="298.29" rx="0.9" ry="1.0" fill="#f6f6f5"/><ellipse cx="592.86" cy="294.81" rx="1.5" ry="1.7" fill="#d9d7d5"/><ellipse cx="593.06" cy="294.81" rx="0.9" ry="1.0" fill="#f6f6f5"/><ellipse cx="598.94" cy="291.33" rx="1.5" ry="1.7" fill="#d9d7d5"/><ellipse cx="599.14" cy="291.33" rx="0.9" ry="1.0" fill="#f6f6f5"/><polygon points="557.28,318.39 560.92,320.47 560.92,314.87 557.28,312.79" fill="#cfcdcb" stroke="#cfcdcb"/><polygon points="560.92,320.47 585.23,306.56 585.23,300.96 560.92,314.87" fill="#eceae8" stroke="#eceae8"/><polygon points="557.28,312.79 581.58,298.87 585.23,300.96 560.92,314.87" fill="#f6f5f4" stroke="#f6f5f4"/><polygon points="564.39,318.08 565.96,317.19 565.96,314.59 564.39,315.48" fill="#3d4656" stroke="#3d4656"/><polygon points="569.08,315.4 570.64,314.51 570.64,311.91 569.08,312.8" fill="#3d4656" stroke="#3d4656"/><polygon points="573.77,312.72 575.33,311.82 575.33,309.22 573.77,310.12" fill="#3d4656" stroke="#3d4656"/><polygon points="578.46,310.03 580.02,309.14 580.02,306.54 578.46,307.43" fill="#3d4656" stroke="#3d4656"/><polygon points="517,259.49 572.12,227.94 608.05,248.51 552.94,280.07" fill="#eeedeb" stroke="#eeedeb"/><polygon points="522.38,259.4 574.29,229.67 604.84,247.17 552.94,276.89" fill="#4d5970" stroke="#4d5970"/><polygon points="543.48,260.84 552.16,265.81 552.16,264.81 543.48,259.84" fill="#cfcdcb" stroke="#cfcdcb"/><polygon points="552.16,265.81 559.1,261.83 559.1,260.83 552.16,264.81" fill="#e4e3e1" stroke="#e4e3e1"/><polygon points="543.48,259.84 550.42,255.86 559.1,260.83 552.16,264.81" fill="#f7f7f6" stroke="#f7f7f6"/><rect x="550.79" y="250.34" width="1.1" height="9" fill="#e8e7e6"/><rect x="551.59" y="250.34" width="3.2" height="1.8" fill="#f0efee"/><polygon points="555.19,254.13 563.87,259.1 563.87,258.1 555.19,253.13" fill="#cfcdcb" stroke="#cfcdcb"/><polygon points="563.87,259.1 570.82,255.12 570.82,254.12 563.87,258.1" fill="#e4e3e1" stroke="#e4e3e1"/><polygon points="555.19,253.13 562.14,249.15 570.82,254.12 563.87,258.1" fill="#f7f7f6" stroke="#f7f7f6"/><rect x="562.51" y="242.13" width="1.1" height="10.5" fill="#e8e7e6"/><rect x="563.31" y="242.13" width="3.2" height="1.8" fill="#f0efee"/><polygon points="566.91,247.42 575.59,252.39 575.59,251.39 566.91,246.42" fill="#cfcdcb" stroke="#cfcdcb"/><polygon points="575.59,252.39 582.54,248.41 582.54,247.41 575.59,251.39" fill="#e4e3e1" stroke="#e4e3e1"/><polygon points="566.91,246.42 573.86,242.44 582.54,247.41 575.59,251.39" fill="#f7f7f6" stroke="#f7f7f6"/><rect x="574.22" y="233.92" width="1.1" height="12" fill="#e8e7e6"/><ellipse cx="537.83" cy="257.9" rx="2.3" ry="1.3" fill="#f3f3f2" transform="rotate(-30 537.83 258.5)"/><ellipse cx="563.01" cy="265.36" rx="2.3" ry="1.3" fill="#f3f3f2" transform="rotate(-30 563.01 265.96)"/><ellipse cx="573.42" cy="258.4" rx="2.3" ry="1.3" fill="#f3f3f2" transform="rotate(-30 573.42 259)"/><ellipse cx="584.71" cy="250.94" rx="2.3" ry="1.3" fill="#f3f3f2" transform="rotate(-30 584.71 251.54)"/><ellipse cx="551.72" cy="248.95" rx="2.3" ry="1.3" fill="#f3f3f2" transform="rotate(-30 551.72 249.55)"/>
<polygon points="799.8,315.5 857.52,348.55 857.52,337.95 799.8,304.9" fill="#dbd9d8" stroke="#dbd9d8"/><polygon points="800.66,312.8 850.57,341.38 850.57,339.98 800.66,311.4" fill="#b8c2d0" stroke="#b8c2d0"/><polygon points="800.66,310 850.57,338.58 850.57,337.38 800.66,308.8" fill="#c6cfdb" stroke="#c6cfdb"/><polygon points="857.52,348.55 880.95,335.13 880.95,324.53 857.52,337.95" fill="#e8e6e4" stroke="#e8e6e4"/><polygon points="799.8,304.9 823.23,291.48 880.95,324.53 857.52,337.95" fill="#efeeec" stroke="#efeeec"/><polygon points="802.4,304.9 823.23,292.97 878.35,324.53 857.52,336.46" fill="#4d5970" stroke="#4d5970"/><polygon points="816.37,304.46 822.62,308.03 822.62,306.43 816.37,302.86" fill="#d9d7d5" stroke="#d9d7d5"/><polygon points="822.62,308.03 828.87,304.46 828.87,302.86 822.62,306.43" fill="#ecebea" stroke="#ecebea"/><polygon points="816.37,302.86 822.62,299.28 828.87,302.86 822.62,306.43" fill="#fbfbfa" stroke="#fbfbfa"/><polygon points="835.73,315.54 841.98,319.12 841.98,317.52 835.73,313.94" fill="#d9d7d5" stroke="#d9d7d5"/><polygon points="841.98,319.12 848.23,315.54 848.23,313.94 841.98,317.52" fill="#ecebea" stroke="#ecebea"/><polygon points="835.73,313.94 841.98,310.36 848.23,313.94 841.98,317.52" fill="#fbfbfa" stroke="#fbfbfa"/><polygon points="855.09,326.62 861.34,330.2 861.34,328.6 855.09,325.02" fill="#d9d7d5" stroke="#d9d7d5"/><polygon points="861.34,330.2 867.59,326.62 867.59,325.02 861.34,328.6" fill="#ecebea" stroke="#ecebea"/><polygon points="855.09,325.02 861.34,321.44 867.59,325.02 861.34,328.6" fill="#fbfbfa" stroke="#fbfbfa"/><polygon points="849.53,346.17 853.44,348.4 853.44,340.9 849.53,338.67" fill="#dcdad8" stroke="#dcdad8"/><polygon points="853.44,348.4 855.35,347.31 855.35,339.81 853.44,340.9" fill="#efeeec" stroke="#efeeec"/><polygon points="849.53,338.67 851.44,337.57 855.35,339.81 853.44,340.9" fill="#f7f6f5" stroke="#f7f6f5"/><polygon points="860.99,346.57 862.9,347.66 862.9,340.16 860.99,339.07" fill="#dcdad8" stroke="#dcdad8"/><polygon points="862.9,347.66 868.11,344.68 868.11,337.18 862.9,340.16" fill="#efeeec" stroke="#efeeec"/><polygon points="860.99,339.07 866.2,336.08 868.11,337.18 862.9,340.16" fill="#f7f6f5" stroke="#f7f6f5"/>
<rect x="790.59" y="248.19" width="5.4" height="60.5" fill="#e9e7e6"/><rect x="790.59" y="259.19" width="5.4" height="11" fill="#c9252c"/><rect x="790.59" y="286.19" width="5.4" height="11" fill="#c9252c"/><rect x="789.79" y="271.19" width="7" height="2.2" rx="1" fill="#f4f3f2"/><rect x="789.79" y="298.19" width="7" height="2.2" rx="1" fill="#f4f3f2"/><rect x="793.89" y="248.19" width="2.1" height="60.5" fill="#000" fill-opacity="0.08"/><ellipse cx="793.29" cy="248.19" rx="2.7" ry="1.3" fill="#f6f5f4"/>
<polygon points="653.54,314.06 688,333.79 688,287.89 653.54,268.16" fill="#d3d1cf" stroke="#d3d1cf"/><polygon points="688,333.79 723.59,313.42 723.59,267.52 688,287.89" fill="#e6e4e2" stroke="#e6e4e2"/><polygon points="698.89,316.6 717.12,306.17 717.12,278.67 698.89,289.1" fill="#d6d4d2" stroke="#d6d4d2"/><polygon points="699.5,316.26 700.63,315.61 700.63,287.81 699.5,288.46" fill="#f1f0ee" stroke="#f1f0ee"/><polygon points="700.63,315.61 701.23,315.26 701.23,287.76 700.63,288.11" fill="#bebcba" stroke="#bebcba"/><polygon points="702.1,314.77 703.23,314.12 703.23,286.32 702.1,286.97" fill="#f1f0ee" stroke="#f1f0ee"/><polygon points="703.23,314.12 703.84,313.77 703.84,286.27 703.23,286.62" fill="#bebcba" stroke="#bebcba"/><polygon points="704.71,313.27 705.83,312.63 705.83,284.83 704.71,285.47" fill="#f1f0ee" stroke="#f1f0ee"/><polygon points="705.83,312.63 706.44,312.28 706.44,284.78 705.83,285.13" fill="#bebcba" stroke="#bebcba"/><polygon points="707.31,311.78 708.44,311.14 708.44,283.34 707.31,283.98" fill="#f1f0ee" stroke="#f1f0ee"/><polygon points="708.44,311.14 709.05,310.79 709.05,283.29 708.44,283.64" fill="#bebcba" stroke="#bebcba"/><polygon points="709.91,310.29 711.04,309.65 711.04,281.85 709.91,282.49" fill="#f1f0ee" stroke="#f1f0ee"/><polygon points="711.04,309.65 711.65,309.3 711.65,281.8 711.04,282.15" fill="#bebcba" stroke="#bebcba"/><polygon points="712.52,308.8 713.65,308.16 713.65,280.36 712.52,281" fill="#f1f0ee" stroke="#f1f0ee"/><polygon points="713.65,308.16 714.25,307.81 714.25,280.31 713.65,280.66" fill="#bebcba" stroke="#bebcba"/><polygon points="715.12,307.31 716.25,306.66 716.25,278.86 715.12,279.51" fill="#f1f0ee" stroke="#f1f0ee"/><polygon points="716.25,306.66 716.86,306.32 716.86,278.82 716.25,279.16" fill="#bebcba" stroke="#bebcba"/><polygon points="691.04,332.05 695.81,334.79 695.81,326.29 691.04,323.55" fill="#cfcdcb" stroke="#cfcdcb"/><polygon points="695.81,334.79 723.59,318.88 723.59,310.38 695.81,326.29" fill="#eae8e6" stroke="#eae8e6"/><polygon points="691.04,323.55 718.81,307.65 723.59,310.38 695.81,326.29" fill="#f6f5f4" stroke="#f6f5f4"/><polygon points="698.85,329.65 700.24,328.85 700.24,327.85 698.85,328.65" fill="#a7b3c6" stroke="#a7b3c6"/><polygon points="702.84,327.36 704.23,326.57 704.23,325.57 702.84,326.36" fill="#a7b3c6" stroke="#a7b3c6"/><polygon points="706.83,325.07 708.22,324.28 708.22,323.28 706.83,324.07" fill="#a7b3c6" stroke="#a7b3c6"/><polygon points="710.83,322.79 712.21,321.99 712.21,320.99 710.83,321.79" fill="#a7b3c6" stroke="#a7b3c6"/><polygon points="714.82,320.5 716.21,319.71 716.21,318.71 714.82,319.5" fill="#a7b3c6" stroke="#a7b3c6"/><polygon points="718.81,318.22 720.2,317.42 720.2,316.42 718.81,317.22" fill="#a7b3c6" stroke="#a7b3c6"/><polygon points="653.54,272.66 688,292.39 688,291.49 653.54,271.76" fill="#c4c2c0" stroke="#c4c2c0"/><polygon points="688,292.39 723.59,272.02 723.59,271.12 688,291.49" fill="#d4d2d0" stroke="#d4d2d0"/><polygon points="653.54,268.16 689.13,247.78 723.59,267.52 688,287.89" fill="#f3f2f0" stroke="#f3f2f0"/><polygon points="655.97,268.16 688,286.5 688,284.4 655.97,266.06" fill="#d8d6d4" stroke="#d8d6d4"/><polygon points="688,286.5 721.15,267.52 721.15,265.42 688,284.4" fill="#eae8e6" stroke="#eae8e6"/><polygon points="655.97,266.06 689.13,247.08 721.15,265.42 688,284.4" fill="#f5f4f2" stroke="#f5f4f2"/><polygon points="659.09,266.06 688,282.61 688,278.71 659.09,262.16" fill="#d9d7d5" stroke="#d9d7d5"/><polygon points="688,282.61 718.03,265.42 718.03,261.52 688,278.71" fill="#ebe9e7" stroke="#ebe9e7"/><polygon points="659.09,262.16 689.13,244.97 718.03,261.52 688,278.71" fill="#f6f5f3" stroke="#f6f5f3"/><ellipse cx="688.56" cy="261.84" rx="19.89" ry="11.39" fill="#f1f0ee"/><path d="M668.68 258.44 A19.89 11.39 0 0 0 708.45 258.44 L708.45 261.84 A19.89 11.39 0 0 1 668.68 261.84 Z" fill="#f1f0ee"/><path d="M669.11 263.81 A19.89 11.39 0 0 0 672.08 267.81 L672.08 265.11 A19.89 11.39 0 0 1 669.11 261.11 Z" fill="#c9252c"/><path d="M677.44 270.88 A19.89 11.39 0 0 0 684.43 272.58 L684.43 269.88 A19.89 11.39 0 0 1 677.44 268.18 Z" fill="#c9252c"/><path d="M692.7 272.58 A19.89 11.39 0 0 0 699.68 270.88 L699.68 268.18 A19.89 11.39 0 0 1 692.7 269.88 Z" fill="#c9252c"/><path d="M705.05 267.81 A19.89 11.39 0 0 0 708.01 263.81 L708.01 261.11 A19.89 11.39 0 0 1 705.05 265.11 Z" fill="#c9252c"/><ellipse cx="688.56" cy="258.44" rx="19.89" ry="11.39" fill="#e9e7e5"/><path d="M669.9 258.44 C669.9 248.89 676.99 243.04 688.56 243.04 C700.13 243.04 707.22 248.89 707.22 258.44 A18.66 10.68 0 0 1 669.9 258.44 Z" fill="url(#domeg)"/><polygon points="598.07,345.32 634.01,365.9 634.01,349.4 598.07,328.82" fill="#d2d0ce" stroke="#d2d0ce"/><polygon points="599.81,345.82 602.07,347.11 602.07,334.61 599.81,333.32" fill="#e3e1df" stroke="#e3e1df"/><polygon points="602.07,347.11 602.67,347.46 602.67,334.96 602.07,334.61" fill="#bfbdbb" stroke="#bfbdbb"/><polygon points="603.97,348.2 606.23,349.49 606.23,336.99 603.97,335.7" fill="#e3e1df" stroke="#e3e1df"/><polygon points="606.23,349.49 606.84,349.84 606.84,337.34 606.23,336.99" fill="#bfbdbb" stroke="#bfbdbb"/><polygon points="608.14,350.59 610.4,351.88 610.4,339.38 608.14,338.09" fill="#e3e1df" stroke="#e3e1df"/><polygon points="610.4,351.88 611.01,352.23 611.01,339.73 610.4,339.38" fill="#bfbdbb" stroke="#bfbdbb"/><polygon points="612.31,352.97 614.56,354.27 614.56,341.77 612.31,340.47" fill="#e3e1df" stroke="#e3e1df"/><polygon points="614.56,354.27 615.17,354.61 615.17,342.11 614.56,341.77" fill="#bfbdbb" stroke="#bfbdbb"/><polygon points="616.47,355.36 618.73,356.65 618.73,344.15 616.47,342.86" fill="#e3e1df" stroke="#e3e1df"/><polygon points="618.73,356.65 619.34,357 619.34,344.5 618.73,344.15" fill="#bfbdbb" stroke="#bfbdbb"/><polygon points="620.64,357.74 622.9,359.04 622.9,346.54 620.64,345.24" fill="#e3e1df" stroke="#e3e1df"/><polygon points="622.9,359.04 623.5,359.38 623.5,346.88 622.9,346.54" fill="#bfbdbb" stroke="#bfbdbb"/><polygon points="624.81,360.13 627.06,361.42 627.06,348.92 624.81,347.63" fill="#e3e1df" stroke="#e3e1df"/><polygon points="627.06,361.42 627.67,361.77 627.67,349.27 627.06,348.92" fill="#bfbdbb" stroke="#bfbdbb"/><polygon points="628.97,362.52 631.23,363.81 631.23,351.31 628.97,350.02" fill="#e3e1df" stroke="#e3e1df"/><polygon points="631.23,363.81 631.84,364.16 631.84,351.66 631.23,351.31" fill="#bfbdbb" stroke="#bfbdbb"/><polygon points="598.07,328.82 634.01,349.4 634.01,329.7 598.07,309.12" fill="#a6191e" stroke="#a6191e"/><polygon points="598.07,328.82 634.01,349.4 634.01,348.2 598.07,327.62" fill="#e8f0ee" stroke="#e8f0ee"/><polygon points="598.07,309.12 634.01,329.7 634.01,325.1 598.07,304.52" fill="#dddbd9" stroke="#dddbd9"/><polygon points="634.01,365.9 689.13,334.34 689.13,293.54 634.01,325.1" fill="#e4e2e0" stroke="#e4e2e0"/><polygon points="634.01,349.4 655.71,336.97 655.71,317.27 634.01,329.7" fill="#c72c31" stroke="#c72c31"/><polygon points="634.01,329.9 689.13,298.34 689.13,297.64 634.01,329.2" fill="#dcdad8" stroke="#dcdad8"/><polygon points="648.63,332.77 654.54,329.39 654.54,319.89 648.63,323.27" fill="#f4f4f3" stroke="#f4f4f3"/><text transform="matrix(0.868 -0.497 0 1 651.54 329.76)" font-size="9" font-weight="bold" text-anchor="middle" fill="#c2272d">2</text><polygon points="660.96,328.52 665.3,326.03 665.3,325.13 660.96,327.62" fill="#a9b4c8" stroke="#a9b4c8"/><polygon points="660.96,321.52 665.3,319.03 665.3,318.13 660.96,320.62" fill="#a9b4c8" stroke="#a9b4c8"/><polygon points="669.64,323.55 673.98,321.06 673.98,320.16 669.64,322.65" fill="#a9b4c8" stroke="#a9b4c8"/><polygon points="669.64,316.55 673.98,314.06 673.98,313.16 669.64,315.65" fill="#a9b4c8" stroke="#a9b4c8"/><polygon points="678.32,318.58 682.66,316.09 682.66,315.19 678.32,317.68" fill="#a9b4c8" stroke="#a9b4c8"/><polygon points="678.32,311.58 682.66,309.09 682.66,308.19 678.32,310.68" fill="#a9b4c8" stroke="#a9b4c8"/><ellipse cx="667.86" cy="343.32" rx="1.5" ry="1.7" fill="#d9d7d5"/><ellipse cx="668.06" cy="343.32" rx="0.9" ry="1.0" fill="#f6f6f5"/><ellipse cx="673.94" cy="339.84" rx="1.5" ry="1.7" fill="#d9d7d5"/><ellipse cx="674.14" cy="339.84" rx="0.9" ry="1.0" fill="#f6f6f5"/><ellipse cx="680.01" cy="336.36" rx="1.5" ry="1.7" fill="#d9d7d5"/><ellipse cx="680.21" cy="336.36" rx="0.9" ry="1.0" fill="#f6f6f5"/><polygon points="638.35,363.41 641.99,365.5 641.99,359.9 638.35,357.81" fill="#cfcdcb" stroke="#cfcdcb"/><polygon points="641.99,365.5 666.3,351.59 666.3,345.99 641.99,359.9" fill="#eceae8" stroke="#eceae8"/><polygon points="638.35,357.81 662.65,343.9 666.3,345.99 641.99,359.9" fill="#f6f5f4" stroke="#f6f5f4"/><polygon points="645.47,363.11 647.03,362.22 647.03,359.62 645.47,360.51" fill="#3d4656" stroke="#3d4656"/><polygon points="650.15,360.43 651.71,359.53 651.71,356.93 650.15,357.83" fill="#3d4656" stroke="#3d4656"/><polygon points="654.84,357.75 656.4,356.85 656.4,354.25 654.84,355.15" fill="#3d4656" stroke="#3d4656"/><polygon points="659.53,355.06 661.09,354.17 661.09,351.57 659.53,352.46" fill="#3d4656" stroke="#3d4656"/><polygon points="598.07,304.52 653.19,272.96 689.13,293.54 634.01,325.1" fill="#eeedeb" stroke="#eeedeb"/><polygon points="603.45,304.42 655.36,274.7 685.91,292.2 634.01,321.92" fill="#4d5970" stroke="#4d5970"/><polygon points="624.55,305.86 633.23,310.83 633.23,309.83 624.55,304.86" fill="#cfcdcb" stroke="#cfcdcb"/><polygon points="633.23,310.83 640.17,306.86 640.17,305.86 633.23,309.83" fill="#e4e3e1" stroke="#e4e3e1"/><polygon points="624.55,304.86 631.49,300.89 640.17,305.86 633.23,309.83" fill="#f7f7f6" stroke="#f7f7f6"/><rect x="631.86" y="295.37" width="1.1" height="9" fill="#e8e7e6"/><rect x="632.66" y="295.37" width="3.2" height="1.8" fill="#f0efee"/><polygon points="636.26,299.16 644.94,304.13 644.94,303.13 636.26,298.16" fill="#cfcdcb" stroke="#cfcdcb"/><polygon points="644.94,304.13 651.89,300.15 651.89,299.15 644.94,303.13" fill="#e4e3e1" stroke="#e4e3e1"/><polygon points="636.26,298.16 643.21,294.18 651.89,299.15 644.94,303.13" fill="#f7f7f6" stroke="#f7f7f6"/><rect x="643.58" y="287.16" width="1.1" height="10.5" fill="#e8e7e6"/><rect x="644.38" y="287.16" width="3.2" height="1.8" fill="#f0efee"/><polygon points="647.98,292.45 656.66,297.42 656.66,296.42 647.98,291.45" fill="#cfcdcb" stroke="#cfcdcb"/><polygon points="656.66,297.42 663.61,293.44 663.61,292.44 656.66,296.42" fill="#e4e3e1" stroke="#e4e3e1"/><polygon points="647.98,291.45 654.93,287.47 663.61,292.44 656.66,296.42" fill="#f7f7f6" stroke="#f7f7f6"/><rect x="655.29" y="278.95" width="1.1" height="12" fill="#e8e7e6"/><ellipse cx="618.9" cy="302.93" rx="2.3" ry="1.3" fill="#f3f3f2" transform="rotate(-30 618.9 303.53)"/><ellipse cx="644.08" cy="310.38" rx="2.3" ry="1.3" fill="#f3f3f2" transform="rotate(-30 644.08 310.98)"/><ellipse cx="654.49" cy="303.43" rx="2.3" ry="1.3" fill="#f3f3f2" transform="rotate(-30 654.49 304.03)"/><ellipse cx="665.78" cy="295.97" rx="2.3" ry="1.3" fill="#f3f3f2" transform="rotate(-30 665.78 296.57)"/><ellipse cx="632.79" cy="293.98" rx="2.3" ry="1.3" fill="#f3f3f2" transform="rotate(-30 632.79 294.58)"/>
<polygon points="734.7,362.02 769.16,381.75 769.16,335.85 734.7,316.12" fill="#d3d1cf" stroke="#d3d1cf"/><polygon points="769.16,381.75 804.74,361.38 804.74,315.48 769.16,335.85" fill="#e6e4e2" stroke="#e6e4e2"/><polygon points="780.05,364.57 798.28,354.13 798.28,326.63 780.05,337.07" fill="#d6d4d2" stroke="#d6d4d2"/><polygon points="780.66,364.22 781.78,363.57 781.78,335.77 780.66,336.42" fill="#f1f0ee" stroke="#f1f0ee"/><polygon points="781.78,363.57 782.39,363.22 782.39,335.72 781.78,336.07" fill="#bebcba" stroke="#bebcba"/><polygon points="783.26,362.73 784.39,362.08 784.39,334.28 783.26,334.93" fill="#f1f0ee" stroke="#f1f0ee"/><polygon points="784.39,362.08 785,361.73 785,334.23 784.39,334.58" fill="#bebcba" stroke="#bebcba"/><polygon points="785.86,361.24 786.99,360.59 786.99,332.79 785.86,333.44" fill="#f1f0ee" stroke="#f1f0ee"/><polygon points="786.99,360.59 787.6,360.24 787.6,332.74 786.99,333.09" fill="#bebcba" stroke="#bebcba"/><polygon points="788.47,359.74 789.6,359.1 789.6,331.3 788.47,331.94" fill="#f1f0ee" stroke="#f1f0ee"/><polygon points="789.6,359.1 790.2,358.75 790.2,331.25 789.6,331.6" fill="#bebcba" stroke="#bebcba"/><polygon points="791.07,358.25 792.2,357.61 792.2,329.81 791.07,330.45" fill="#f1f0ee" stroke="#f1f0ee"/><polygon points="792.2,357.61 792.81,357.26 792.81,329.76 792.2,330.11" fill="#bebcba" stroke="#bebcba"/><polygon points="793.68,356.76 794.8,356.12 794.8,328.32 793.68,328.96" fill="#f1f0ee" stroke="#f1f0ee"/><polygon points="794.8,356.12 795.41,355.77 795.41,328.27 794.8,328.62" fill="#bebcba" stroke="#bebcba"/><polygon points="796.28,355.27 797.41,354.63 797.41,326.83 796.28,327.47" fill="#f1f0ee" stroke="#f1f0ee"/><polygon points="797.41,354.63 798.02,354.28 798.02,326.78 797.41,327.13" fill="#bebcba" stroke="#bebcba"/><polygon points="772.19,380.01 776.97,382.75 776.97,374.25 772.19,371.51" fill="#cfcdcb" stroke="#cfcdcb"/><polygon points="776.97,382.75 804.74,366.84 804.74,358.34 776.97,374.25" fill="#eae8e6" stroke="#eae8e6"/><polygon points="772.19,371.51 799.97,355.61 804.74,358.34 776.97,374.25" fill="#f6f5f4" stroke="#f6f5f4"/><polygon points="780.01,377.61 781.39,376.81 781.39,375.81 780.01,376.61" fill="#a7b3c6" stroke="#a7b3c6"/><polygon points="784,375.32 785.39,374.53 785.39,373.53 784,374.32" fill="#a7b3c6" stroke="#a7b3c6"/><polygon points="787.99,373.04 789.38,372.24 789.38,371.24 787.99,372.04" fill="#a7b3c6" stroke="#a7b3c6"/><polygon points="791.98,370.75 793.37,369.95 793.37,368.95 791.98,369.75" fill="#a7b3c6" stroke="#a7b3c6"/><polygon points="795.98,368.46 797.37,367.67 797.37,366.67 795.98,367.46" fill="#a7b3c6" stroke="#a7b3c6"/><polygon points="799.97,366.18 801.36,365.38 801.36,364.38 799.97,365.18" fill="#a7b3c6" stroke="#a7b3c6"/><polygon points="734.7,320.62 769.16,340.35 769.16,339.45 734.7,319.72" fill="#c4c2c0" stroke="#c4c2c0"/><polygon points="769.16,340.35 804.74,319.98 804.74,319.08 769.16,339.45" fill="#d4d2d0" stroke="#d4d2d0"/><polygon points="734.7,316.12 770.28,295.75 804.74,315.48 769.16,335.85" fill="#f3f2f0" stroke="#f3f2f0"/><polygon points="737.13,316.12 769.16,334.46 769.16,332.36 737.13,314.02" fill="#d8d6d4" stroke="#d8d6d4"/><polygon points="769.16,334.46 802.31,315.48 802.31,313.38 769.16,332.36" fill="#eae8e6" stroke="#eae8e6"/><polygon points="737.13,314.02 770.28,295.04 802.31,313.38 769.16,332.36" fill="#f5f4f2" stroke="#f5f4f2"/><polygon points="740.25,314.02 769.16,330.57 769.16,326.67 740.25,310.12" fill="#d9d7d5" stroke="#d9d7d5"/><polygon points="769.16,330.57 799.19,313.38 799.19,309.48 769.16,326.67" fill="#ebe9e7" stroke="#ebe9e7"/><polygon points="740.25,310.12 770.28,292.93 799.19,309.48 769.16,326.67" fill="#f6f5f3" stroke="#f6f5f3"/><ellipse cx="769.72" cy="309.8" rx="19.89" ry="11.39" fill="#f1f0ee"/><path d="M749.83 306.4 A19.89 11.39 0 0 0 789.61 306.4 L789.61 309.8 A19.89 11.39 0 0 1 749.83 309.8 Z" fill="#f1f0ee"/><path d="M750.27 311.77 A19.89 11.39 0 0 0 753.23 315.77 L753.23 313.07 A19.89 11.39 0 0 1 750.27 309.07 Z" fill="#c9252c"/><path d="M758.6 318.84 A19.89 11.39 0 0 0 765.58 320.54 L765.58 317.84 A19.89 11.39 0 0 1 758.6 316.14 Z" fill="#c9252c"/><path d="M773.85 320.54 A19.89 11.39 0 0 0 780.84 318.84 L780.84 316.14 A19.89 11.39 0 0 1 773.85 317.84 Z" fill="#c9252c"/><path d="M786.21 315.77 A19.89 11.39 0 0 0 789.17 311.77 L789.17 309.07 A19.89 11.39 0 0 1 786.21 313.07 Z" fill="#c9252c"/><ellipse cx="769.72" cy="306.4" rx="19.89" ry="11.39" fill="#e9e7e5"/><path d="M751.06 306.4 C751.06 296.85 758.15 291 769.72 291 C781.29 291 788.38 296.85 788.38 306.4 A18.66 10.68 0 0 1 751.06 306.4 Z" fill="url(#domeg)"/><polygon points="679.23,393.28 715.17,413.86 715.17,397.36 679.23,376.78" fill="#d2d0ce" stroke="#d2d0ce"/><polygon points="680.97,393.78 683.22,395.07 683.22,382.57 680.97,381.28" fill="#e3e1df" stroke="#e3e1df"/><polygon points="683.22,395.07 683.83,395.42 683.83,382.92 683.22,382.57" fill="#bfbdbb" stroke="#bfbdbb"/><polygon points="685.13,396.16 687.39,397.46 687.39,384.96 685.13,383.66" fill="#e3e1df" stroke="#e3e1df"/><polygon points="687.39,397.46 688,397.8 688,385.3 687.39,384.96" fill="#bfbdbb" stroke="#bfbdbb"/><polygon points="689.3,398.55 691.56,399.84 691.56,387.34 689.3,386.05" fill="#e3e1df" stroke="#e3e1df"/><polygon points="691.56,399.84 692.16,400.19 692.16,387.69 691.56,387.34" fill="#bfbdbb" stroke="#bfbdbb"/><polygon points="693.47,400.93 695.72,402.23 695.72,389.73 693.47,388.43" fill="#e3e1df" stroke="#e3e1df"/><polygon points="695.72,402.23 696.33,402.57 696.33,390.07 695.72,389.73" fill="#bfbdbb" stroke="#bfbdbb"/><polygon points="697.63,403.32 699.89,404.61 699.89,392.11 697.63,390.82" fill="#e3e1df" stroke="#e3e1df"/><polygon points="699.89,404.61 700.5,404.96 700.5,392.46 699.89,392.11" fill="#bfbdbb" stroke="#bfbdbb"/><polygon points="701.8,405.71 704.06,407 704.06,394.5 701.8,393.21" fill="#e3e1df" stroke="#e3e1df"/><polygon points="704.06,407 704.66,407.35 704.66,394.85 704.06,394.5" fill="#bfbdbb" stroke="#bfbdbb"/><polygon points="705.96,408.09 708.22,409.38 708.22,396.88 705.96,395.59" fill="#e3e1df" stroke="#e3e1df"/><polygon points="708.22,409.38 708.83,409.73 708.83,397.23 708.22,396.88" fill="#bfbdbb" stroke="#bfbdbb"/><polygon points="710.13,410.48 712.39,411.77 712.39,399.27 710.13,397.98" fill="#e3e1df" stroke="#e3e1df"/><polygon points="712.39,411.77 713,412.12 713,399.62 712.39,399.27" fill="#bfbdbb" stroke="#bfbdbb"/><polygon points="679.23,376.78 715.17,397.36 715.17,377.66 679.23,357.08" fill="#a6191e" stroke="#a6191e"/><polygon points="679.23,376.78 715.17,397.36 715.17,396.16 679.23,375.58" fill="#e8f0ee" stroke="#e8f0ee"/><polygon points="679.23,357.08 715.17,377.66 715.17,373.06 679.23,352.48" fill="#dddbd9" stroke="#dddbd9"/><polygon points="715.17,413.86 770.28,382.3 770.28,341.5 715.17,373.06" fill="#e4e2e0" stroke="#e4e2e0"/><polygon points="715.17,397.36 736.87,384.93 736.87,365.23 715.17,377.66" fill="#c72c31" stroke="#c72c31"/><polygon points="715.17,377.86 770.28,346.3 770.28,345.6 715.17,377.16" fill="#dcdad8" stroke="#dcdad8"/><polygon points="729.79,380.73 735.69,377.35 735.69,367.85 729.79,371.23" fill="#f4f4f3" stroke="#f4f4f3"/><text transform="matrix(0.868 -0.497 0 1 732.7 377.72)" font-size="9" font-weight="bold" text-anchor="middle" fill="#c2272d">3</text><polygon points="742.12,376.48 746.46,373.99 746.46,373.09 742.12,375.58" fill="#a9b4c8" stroke="#a9b4c8"/><polygon points="742.12,369.48 746.46,366.99 746.46,366.09 742.12,368.58" fill="#a9b4c8" stroke="#a9b4c8"/><polygon points="750.8,371.51 755.14,369.02 755.14,368.12 750.8,370.61" fill="#a9b4c8" stroke="#a9b4c8"/><polygon points="750.8,364.51 755.14,362.02 755.14,361.12 750.8,363.61" fill="#a9b4c8" stroke="#a9b4c8"/><polygon points="759.48,366.54 763.82,364.05 763.82,363.15 759.48,365.64" fill="#a9b4c8" stroke="#a9b4c8"/><polygon points="759.48,359.54 763.82,357.05 763.82,356.15 759.48,358.64" fill="#a9b4c8" stroke="#a9b4c8"/><ellipse cx="749.02" cy="391.28" rx="1.5" ry="1.7" fill="#d9d7d5"/><ellipse cx="749.22" cy="391.28" rx="0.9" ry="1.0" fill="#f6f6f5"/><ellipse cx="755.09" cy="387.8" rx="1.5" ry="1.7" fill="#d9d7d5"/><ellipse cx="755.29" cy="387.8" rx="0.9" ry="1.0" fill="#f6f6f5"/><ellipse cx="761.17" cy="384.32" rx="1.5" ry="1.7" fill="#d9d7d5"/><ellipse cx="761.37" cy="384.32" rx="0.9" ry="1.0" fill="#f6f6f5"/><polygon points="719.51,411.37 723.15,413.46 723.15,407.86 719.51,405.77" fill="#cfcdcb" stroke="#cfcdcb"/><polygon points="723.15,413.46 747.46,399.55 747.46,393.95 723.15,407.86" fill="#eceae8" stroke="#eceae8"/><polygon points="719.51,405.77 743.81,391.86 747.46,393.95 723.15,407.86" fill="#f6f5f4" stroke="#f6f5f4"/><polygon points="726.62,411.07 728.19,410.18 728.19,407.58 726.62,408.47" fill="#3d4656" stroke="#3d4656"/><polygon points="731.31,408.39 732.87,407.5 732.87,404.9 731.31,405.79" fill="#3d4656" stroke="#3d4656"/><polygon points="736,405.71 737.56,404.81 737.56,402.21 736,403.11" fill="#3d4656" stroke="#3d4656"/><polygon points="740.68,403.02 742.25,402.13 742.25,399.53 740.68,400.42" fill="#3d4656" stroke="#3d4656"/><polygon points="679.23,352.48 734.35,320.92 770.28,341.5 715.17,373.06" fill="#eeedeb" stroke="#eeedeb"/><polygon points="684.61,352.38 736.52,322.66 767.07,340.16 715.17,369.88" fill="#4d5970" stroke="#4d5970"/><polygon points="705.7,353.83 714.38,358.8 714.38,357.8 705.7,352.83" fill="#cfcdcb" stroke="#cfcdcb"/><polygon points="714.38,358.8 721.33,354.82 721.33,353.82 714.38,357.8" fill="#e4e3e1" stroke="#e4e3e1"/><polygon points="705.7,352.83 712.65,348.85 721.33,353.82 714.38,357.8" fill="#f7f7f6" stroke="#f7f7f6"/><rect x="713.02" y="343.33" width="1.1" height="9" fill="#e8e7e6"/><rect x="713.82" y="343.33" width="3.2" height="1.8" fill="#f0efee"/><polygon points="717.42,347.12 726.1,352.09 726.1,351.09 717.42,346.12" fill="#cfcdcb" stroke="#cfcdcb"/><polygon points="726.1,352.09 733.05,348.11 733.05,347.11 726.1,351.09" fill="#e4e3e1" stroke="#e4e3e1"/><polygon points="717.42,346.12 724.37,342.14 733.05,347.11 726.1,351.09" fill="#f7f7f6" stroke="#f7f7f6"/><rect x="724.73" y="335.12" width="1.1" height="10.5" fill="#e8e7e6"/><rect x="725.53" y="335.12" width="3.2" height="1.8" fill="#f0efee"/><polygon points="729.14,340.41 737.82,345.38 737.82,344.38 729.14,339.41" fill="#cfcdcb" stroke="#cfcdcb"/><polygon points="737.82,345.38 744.76,341.4 744.76,340.4 737.82,344.38" fill="#e4e3e1" stroke="#e4e3e1"/><polygon points="729.14,339.41 736.08,335.43 744.76,340.4 737.82,344.38" fill="#f7f7f6" stroke="#f7f7f6"/><rect x="736.45" y="326.91" width="1.1" height="12" fill="#e8e7e6"/><ellipse cx="700.06" cy="350.89" rx="2.3" ry="1.3" fill="#f3f3f2" transform="rotate(-30 700.06 351.49)"/><ellipse cx="725.23" cy="358.34" rx="2.3" ry="1.3" fill="#f3f3f2" transform="rotate(-30 725.23 358.94)"/><ellipse cx="735.65" cy="351.39" rx="2.3" ry="1.3" fill="#f3f3f2" transform="rotate(-30 735.65 351.99)"/><ellipse cx="746.93" cy="343.93" rx="2.3" ry="1.3" fill="#f3f3f2" transform="rotate(-30 746.93 344.53)"/><ellipse cx="713.95" cy="341.94" rx="2.3" ry="1.3" fill="#f3f3f2" transform="rotate(-30 713.95 342.54)"/>
<ellipse cx="972.7" cy="299.1" rx="5" ry="2.4" fill="#88b446"/><rect x="972" y="288.8" width="1.4" height="10" fill="#7b5a2c"/><path d="M972.7 278.8 C976.2 279.8 979.3 287.8 978.7 290.3 C977.7 292.5 967.7 292.5 966.7 290.3 C966.1 287.8 969.2 279.8 972.7 278.8 Z" fill="#a3cd4c"/><ellipse cx="971.7" cy="284.8" rx="2.8" ry="3.6" fill="#b1d85c"/>
<ellipse cx="988.4" cy="303" rx="5" ry="2.4" fill="#88b446"/><rect x="987.7" y="292.7" width="1.4" height="10" fill="#7b5a2c"/><path d="M988.4 282.7 C991.9 283.7 995 291.7 994.4 294.2 C993.4 296.4 983.4 296.4 982.4 294.2 C981.8 291.7 984.9 283.7 988.4 282.7 Z" fill="#a3cd4c"/><ellipse cx="987.4" cy="288.7" rx="2.8" ry="3.6" fill="#b1d85c"/>
<ellipse cx="962.1" cy="316.4" rx="5" ry="2.4" fill="#88b446"/><rect x="961.4" y="306.1" width="1.4" height="10" fill="#7b5a2c"/><ellipse cx="962.1" cy="303.5" rx="6.5" ry="5.5" fill="#a3cd4c"/><ellipse cx="960.8" cy="301.9" rx="4.2" ry="3.3" fill="#b1d85c"/>
<ellipse cx="944.2" cy="322.8" rx="5" ry="2.4" fill="#88b446"/><rect x="943.5" y="312.5" width="1.4" height="10" fill="#7b5a2c"/><path d="M944.2 302.5 C947.7 303.5 950.8 311.5 950.2 314 C949.2 316.2 939.2 316.2 938.2 314 C937.6 311.5 940.7 303.5 944.2 302.5 Z" fill="#a3cd4c"/><ellipse cx="943.2" cy="308.5" rx="2.8" ry="3.6" fill="#b1d85c"/>
<ellipse cx="910.9" cy="327.8" rx="5" ry="2.4" fill="#88b446"/><rect x="910.2" y="317.5" width="1.4" height="10" fill="#7b5a2c"/><ellipse cx="910.9" cy="314.9" rx="6.5" ry="5.5" fill="#a3cd4c"/><ellipse cx="909.6" cy="313.3" rx="4.2" ry="3.3" fill="#b1d85c"/>
<ellipse cx="928" cy="337.3" rx="5" ry="2.4" fill="#88b446"/><rect x="927.3" y="327" width="1.4" height="10" fill="#7b5a2c"/><ellipse cx="928" cy="324.4" rx="6.5" ry="5.5" fill="#a3cd4c"/><ellipse cx="926.7" cy="322.8" rx="4.2" ry="3.3" fill="#b1d85c"/>
<ellipse cx="905" cy="347.7" rx="5" ry="2.4" fill="#88b446"/><rect x="904.3" y="337.4" width="1.4" height="10" fill="#7b5a2c"/><ellipse cx="905" cy="334.8" rx="6.5" ry="5.5" fill="#a3cd4c"/><ellipse cx="903.7" cy="333.2" rx="4.2" ry="3.3" fill="#b1d85c"/>
<ellipse cx="889.4" cy="357.1" rx="5" ry="2.4" fill="#88b446"/><rect x="888.7" y="346.8" width="1.4" height="10" fill="#7b5a2c"/><path d="M889.4 336.8 C892.9 337.8 896 345.8 895.4 348.3 C894.4 350.5 884.4 350.5 883.4 348.3 C882.8 345.8 885.9 337.8 889.4 336.8 Z" fill="#a3cd4c"/><ellipse cx="888.4" cy="342.8" rx="2.8" ry="3.6" fill="#b1d85c"/>
<ellipse cx="874" cy="363.3" rx="5" ry="2.4" fill="#88b446"/><rect x="873.3" y="353" width="1.4" height="10" fill="#7b5a2c"/><ellipse cx="874" cy="350.4" rx="6.5" ry="5.5" fill="#a3cd4c"/><ellipse cx="872.7" cy="348.8" rx="4.2" ry="3.3" fill="#b1d85c"/>
<polygon points="806.13,396.66 810.47,394.18 825.66,402.88 821.32,405.36" fill="#a9a29f" stroke="#a9a29f"/><polygon points="811.34,394.67 824.79,402.38 824.79,396.18 818.07,388.93 811.34,388.47" fill="#dddbd9" stroke="#dddbd9"/><polygon points="813.49,395.61 815.49,396.75 815.49,393.15 813.49,392.01" fill="#3f4a5e" stroke="#3f4a5e"/><polygon points="816.99,397.61 818.99,398.75 818.99,395.15 816.99,394.01" fill="#3f4a5e" stroke="#3f4a5e"/><polygon points="820.49,399.61 822.49,400.76 822.49,397.16 820.49,396.01" fill="#3f4a5e" stroke="#3f4a5e"/><polygon points="824.79,402.38 863.85,380.01 863.85,373.81 824.79,396.18" fill="#e9e7e5" stroke="#e9e7e5"/><polygon points="826.53,397.18 862.12,376.81 862.12,376.11 826.53,396.48" fill="#b9bfca" stroke="#b9bfca"/><polygon points="811.34,388.47 850.4,366.11 857.13,366.56 818.07,388.93" fill="#505b71" stroke="#505b71"/><polygon points="818.07,388.93 857.13,366.56 864.2,374.21 825.14,396.58" fill="#58647b" stroke="#58647b"/>
<polygon points="740.86,435.43 745.2,432.94 760.48,441.69 756.14,444.18" fill="#a9a29f" stroke="#a9a29f"/><polygon points="746.07,433.44 759.61,441.19 759.61,434.99 752.84,427.72 746.07,427.24" fill="#dddbd9" stroke="#dddbd9"/><polygon points="748.23,434.38 750.23,435.52 750.23,431.92 748.23,430.78" fill="#3f4a5e" stroke="#3f4a5e"/><polygon points="751.75,436.4 753.75,437.54 753.75,433.94 751.75,432.8" fill="#3f4a5e" stroke="#3f4a5e"/><polygon points="755.27,438.41 757.27,439.56 757.27,435.96 755.27,434.81" fill="#3f4a5e" stroke="#3f4a5e"/><polygon points="759.61,441.19 797.19,419.67 797.19,413.47 759.61,434.99" fill="#e9e7e5" stroke="#e9e7e5"/><polygon points="761.34,436 795.46,416.47 795.46,415.77 761.34,435.3" fill="#b9bfca" stroke="#b9bfca"/><polygon points="746.07,427.24 783.65,405.72 790.42,406.2 752.84,427.72" fill="#505b71" stroke="#505b71"/><polygon points="752.84,427.72 790.42,406.2 797.54,413.87 759.95,435.39" fill="#58647b" stroke="#58647b"/>
<polygon points="448.52,316.15 470.22,328.57 470.22,316.87 448.52,304.45" fill="#d6d4d2" stroke="#d6d4d2"/><polygon points="470.22,328.57 491.05,316.65 491.05,304.95 470.22,316.87" fill="#e9e7e5" stroke="#e9e7e5"/><polygon points="448.52,304.45 469.35,292.52 491.05,304.95 470.22,316.87" fill="#f1f0ee" stroke="#f1f0ee"/><polygon points="481.93,320.87 501.9,332.3 501.9,320.6 481.93,309.17" fill="#d6d4d2" stroke="#d6d4d2"/><polygon points="501.9,332.3 510.14,327.58 510.14,315.88 501.9,320.6" fill="#e9e7e5" stroke="#e9e7e5"/><polygon points="481.93,309.17 490.18,304.45 510.14,315.88 501.9,320.6" fill="#f1f0ee" stroke="#f1f0ee"/><polygon points="450.6,304.45 469.35,293.71 508.06,315.88 501.9,319.41 482.8,308.47 470.22,315.68" fill="#4d5970" stroke="#4d5970"/><polygon points="450.25,313.64 468.48,324.08 468.48,323.28 450.25,312.84" fill="#c9c7c6" stroke="#c9c7c6"/><polygon points="450.25,310.14 468.48,320.58 468.48,319.78 450.25,309.34" fill="#c9c7c6" stroke="#c9c7c6"/><polygon points="463.27,303.95 468.48,306.93 468.48,305.43 463.27,302.45" fill="#d5d3d1" stroke="#d5d3d1"/><polygon points="468.48,306.93 473.69,303.95 473.69,302.45 468.48,305.43" fill="#e9e8e6" stroke="#e9e8e6"/><polygon points="463.27,302.45 468.48,299.47 473.69,302.45 468.48,305.43" fill="#fbfbfa" stroke="#fbfbfa"/><polygon points="474.99,327.83 488.01,335.28 488.01,327.88 474.99,320.43" fill="#d6d4d2" stroke="#d6d4d2"/><polygon points="488.01,335.28 497.56,329.82 497.56,322.42 488.01,327.88" fill="#e9e7e5" stroke="#e9e7e5"/><polygon points="474.99,320.43 484.54,314.96 497.56,322.42 488.01,327.88" fill="#f1f0ee" stroke="#f1f0ee"/><polygon points="477.07,320.43 483.41,316.8 494.35,323.06 488.01,326.69" fill="#4d5970" stroke="#4d5970"/><polygon points="476.9,328.32 478.29,329.12 478.29,324.92 476.9,324.12" fill="#3d4758" stroke="#3d4758"/><polygon points="484.54,332.7 485.93,333.49 485.93,329.29 484.54,328.5" fill="#3d4758" stroke="#3d4758"/>
<rect x="541.06" y="326.97" width="2.4" height="19" rx="1.2" fill="#e4e2e2"/><rect x="542.46" y="327.97" width="1" height="18" fill="#cfcdcd"/>
<polygon points="508.84,336.28 514.92,332.8 535.75,344.73 529.67,348.21" fill="#bdb7b4" stroke="#bdb7b4"/><path d="M511.48 336.03 L511.48 322.53 A3.01 1.72 0 0 1 517.49 322.53 L517.49 336.03 A3.01 1.72 0 0 1 511.48 336.03 Z" fill="#e8e6e5"/><ellipse cx="514.48" cy="322.53" rx="3.01" ry="1.72" fill="#fafafa"/><rect x="515.68" y="322.53" width="1.6" height="13" fill="#000" fill-opacity="0.07"/><path d="M516.34 338.81 L516.34 325.31 A3.01 1.72 0 0 1 522.35 325.31 L522.35 338.81 A3.01 1.72 0 0 1 516.34 338.81 Z" fill="#e8e6e5"/><ellipse cx="519.34" cy="325.31" rx="3.01" ry="1.72" fill="#fafafa"/><rect x="520.54" y="325.31" width="1.6" height="13" fill="#000" fill-opacity="0.07"/><path d="M521.2 341.6 L521.2 328.1 A3.01 1.72 0 0 1 527.21 328.1 L527.21 341.6 A3.01 1.72 0 0 1 521.2 341.6 Z" fill="#e8e6e5"/><ellipse cx="524.21" cy="328.1" rx="3.01" ry="1.72" fill="#fafafa"/><rect x="525.41" y="328.1" width="1.6" height="13" fill="#000" fill-opacity="0.07"/><path d="M526.06 344.38 L526.06 330.88 A3.01 1.72 0 0 1 532.07 330.88 L532.07 344.38 A3.01 1.72 0 0 1 526.06 344.38 Z" fill="#e8e6e5"/><ellipse cx="529.07" cy="330.88" rx="3.01" ry="1.72" fill="#fafafa"/><rect x="530.27" y="330.88" width="1.6" height="13" fill="#000" fill-opacity="0.07"/>
<polygon points="491.48,345.72 494.52,343.98 505.8,350.44 502.77,352.18" fill="#bdb7b4" stroke="#bdb7b4"/><polygon points="494.95,345.22 503.63,350.19 503.63,344.59 494.95,339.62" fill="#dad8d6" stroke="#dad8d6"/><polygon points="503.63,350.19 511.45,345.72 511.45,340.12 503.63,344.59" fill="#efeeec" stroke="#efeeec"/><polygon points="494.95,339.62 502.77,335.15 511.45,340.12 503.63,344.59" fill="#fcfcfb" stroke="#fcfcfb"/><polygon points="503.2,353.42 506.24,351.68 517.52,358.15 514.48,359.88" fill="#bdb7b4" stroke="#bdb7b4"/><polygon points="506.67,352.93 515.35,357.9 515.35,352.3 506.67,347.33" fill="#dad8d6" stroke="#dad8d6"/><polygon points="515.35,357.9 523.16,353.42 523.16,347.82 515.35,352.3" fill="#efeeec" stroke="#efeeec"/><polygon points="506.67,347.33 514.48,342.85 523.16,347.82 515.35,352.3" fill="#fcfcfb" stroke="#fcfcfb"/>
<polygon points="534.45,365.35 556.15,377.78 556.15,366.08 534.45,353.65" fill="#d6d4d2" stroke="#d6d4d2"/><polygon points="556.15,377.78 576.98,365.85 576.98,354.15 556.15,366.08" fill="#e9e7e5" stroke="#e9e7e5"/><polygon points="534.45,353.65 555.28,341.72 576.98,354.15 556.15,366.08" fill="#f1f0ee" stroke="#f1f0ee"/><polygon points="567.87,370.07 587.83,381.5 587.83,369.8 567.87,358.37" fill="#d6d4d2" stroke="#d6d4d2"/><polygon points="587.83,381.5 596.08,376.78 596.08,365.08 587.83,369.8" fill="#e9e7e5" stroke="#e9e7e5"/><polygon points="567.87,358.37 576.11,353.65 596.08,365.08 587.83,369.8" fill="#f1f0ee" stroke="#f1f0ee"/><polygon points="536.53,353.65 555.28,342.92 593.99,365.08 587.83,368.61 568.73,357.68 556.15,364.88" fill="#4d5970" stroke="#4d5970"/><polygon points="536.18,362.85 554.41,373.28 554.41,372.48 536.18,362.05" fill="#c9c7c6" stroke="#c9c7c6"/><polygon points="536.18,359.35 554.41,369.78 554.41,368.98 536.18,358.55" fill="#c9c7c6" stroke="#c9c7c6"/><polygon points="549.2,353.16 554.41,356.14 554.41,354.64 549.2,351.66" fill="#d5d3d1" stroke="#d5d3d1"/><polygon points="554.41,356.14 559.62,353.16 559.62,351.66 554.41,354.64" fill="#e9e8e6" stroke="#e9e8e6"/><polygon points="549.2,351.66 554.41,348.67 559.62,351.66 554.41,354.64" fill="#fbfbfa" stroke="#fbfbfa"/><polygon points="560.92,377.03 573.94,384.49 573.94,377.09 560.92,369.63" fill="#d6d4d2" stroke="#d6d4d2"/><polygon points="573.94,384.49 583.49,379.02 583.49,371.62 573.94,377.09" fill="#e9e7e5" stroke="#e9e7e5"/><polygon points="560.92,369.63 570.47,364.16 583.49,371.62 573.94,377.09" fill="#f1f0ee" stroke="#f1f0ee"/><polygon points="563.01,369.63 569.34,366 580.28,372.27 573.94,375.89" fill="#4d5970" stroke="#4d5970"/><polygon points="562.83,377.52 564.22,378.32 564.22,374.12 562.83,373.32" fill="#3d4758" stroke="#3d4758"/><polygon points="570.47,381.9 571.86,382.69 571.86,378.49 570.47,377.7" fill="#3d4758" stroke="#3d4758"/>
<rect x="626.99" y="376.17" width="2.4" height="19" rx="1.2" fill="#e4e2e2"/><rect x="628.39" y="377.17" width="1" height="18" fill="#cfcdcd"/>
<polygon points="594.77,385.48 600.85,382 621.68,393.93 615.61,397.41" fill="#bdb7b4" stroke="#bdb7b4"/><path d="M597.41 385.23 L597.41 371.73 A3.01 1.72 0 0 1 603.42 371.73 L603.42 385.23 A3.01 1.72 0 0 1 597.41 385.23 Z" fill="#e8e6e5"/><ellipse cx="600.42" cy="371.73" rx="3.01" ry="1.72" fill="#fafafa"/><rect x="601.62" y="371.73" width="1.6" height="13" fill="#000" fill-opacity="0.07"/><path d="M602.27 388.02 L602.27 374.52 A3.01 1.72 0 0 1 608.28 374.52 L608.28 388.02 A3.01 1.72 0 0 1 602.27 388.02 Z" fill="#e8e6e5"/><ellipse cx="605.28" cy="374.52" rx="3.01" ry="1.72" fill="#fafafa"/><rect x="606.48" y="374.52" width="1.6" height="13" fill="#000" fill-opacity="0.07"/><path d="M607.13 390.8 L607.13 377.3 A3.01 1.72 0 0 1 613.15 377.3 L613.15 390.8 A3.01 1.72 0 0 1 607.13 390.8 Z" fill="#e8e6e5"/><ellipse cx="610.14" cy="377.3" rx="3.01" ry="1.72" fill="#fafafa"/><rect x="611.34" y="377.3" width="1.6" height="13" fill="#000" fill-opacity="0.07"/><path d="M611.99 393.58 L611.99 380.08 A3.01 1.72 0 0 1 618.01 380.08 L618.01 393.58 A3.01 1.72 0 0 1 611.99 393.58 Z" fill="#e8e6e5"/><ellipse cx="615" cy="380.08" rx="3.01" ry="1.72" fill="#fafafa"/><rect x="616.2" y="380.08" width="1.6" height="13" fill="#000" fill-opacity="0.07"/>
<polygon points="577.41,394.92 580.45,393.18 591.74,399.64 588.7,401.38" fill="#bdb7b4" stroke="#bdb7b4"/><polygon points="580.89,394.43 589.57,399.4 589.57,393.8 580.89,388.83" fill="#dad8d6" stroke="#dad8d6"/><polygon points="589.57,399.4 597.38,394.92 597.38,389.32 589.57,393.8" fill="#efeeec" stroke="#efeeec"/><polygon points="580.89,388.83 588.7,384.35 597.38,389.32 589.57,393.8" fill="#fcfcfb" stroke="#fcfcfb"/><polygon points="589.13,402.63 592.17,400.89 603.45,407.35 600.42,409.09" fill="#bdb7b4" stroke="#bdb7b4"/><polygon points="592.6,402.13 601.28,407.1 601.28,401.5 592.6,396.53" fill="#dad8d6" stroke="#dad8d6"/><polygon points="601.28,407.1 609.1,402.63 609.1,397.03 601.28,401.5" fill="#efeeec" stroke="#efeeec"/><polygon points="592.6,396.53 600.42,392.06 609.1,397.03 601.28,401.5" fill="#fcfcfb" stroke="#fcfcfb"/>
<polygon points="621.25,415.05 642.95,427.48 642.95,415.78 621.25,403.35" fill="#d6d4d2" stroke="#d6d4d2"/><polygon points="642.95,427.48 663.78,415.55 663.78,403.85 642.95,415.78" fill="#e9e7e5" stroke="#e9e7e5"/><polygon points="621.25,403.35 642.08,391.42 663.78,403.85 642.95,415.78" fill="#f1f0ee" stroke="#f1f0ee"/><polygon points="654.67,419.77 674.63,431.2 674.63,419.5 654.67,408.07" fill="#d6d4d2" stroke="#d6d4d2"/><polygon points="674.63,431.2 682.88,426.48 682.88,414.78 674.63,419.5" fill="#e9e7e5" stroke="#e9e7e5"/><polygon points="654.67,408.07 662.91,403.35 682.88,414.78 674.63,419.5" fill="#f1f0ee" stroke="#f1f0ee"/><polygon points="623.33,403.35 642.08,392.62 680.79,414.78 674.63,418.31 655.53,407.38 642.95,414.58" fill="#4d5970" stroke="#4d5970"/><polygon points="622.98,412.55 641.21,422.98 641.21,422.18 622.98,411.75" fill="#c9c7c6" stroke="#c9c7c6"/><polygon points="622.98,409.05 641.21,419.48 641.21,418.68 622.98,408.25" fill="#c9c7c6" stroke="#c9c7c6"/><polygon points="636,402.86 641.21,405.84 641.21,404.34 636,401.36" fill="#d5d3d1" stroke="#d5d3d1"/><polygon points="641.21,405.84 646.42,402.86 646.42,401.36 641.21,404.34" fill="#e9e8e6" stroke="#e9e8e6"/><polygon points="636,401.36 641.21,398.37 646.42,401.36 641.21,404.34" fill="#fbfbfa" stroke="#fbfbfa"/><polygon points="647.72,426.73 660.74,434.19 660.74,426.79 647.72,419.33" fill="#d6d4d2" stroke="#d6d4d2"/><polygon points="660.74,434.19 670.29,428.72 670.29,421.32 660.74,426.79" fill="#e9e7e5" stroke="#e9e7e5"/><polygon points="647.72,419.33 657.27,413.86 670.29,421.32 660.74,426.79" fill="#f1f0ee" stroke="#f1f0ee"/><polygon points="649.81,419.33 656.14,415.7 667.08,421.97 660.74,425.59" fill="#4d5970" stroke="#4d5970"/><polygon points="649.63,427.22 651.02,428.02 651.02,423.82 649.63,423.02" fill="#3d4758" stroke="#3d4758"/><polygon points="657.27,431.6 658.66,432.39 658.66,428.19 657.27,427.4" fill="#3d4758" stroke="#3d4758"/>
<polygon points="681.57,435.18 687.65,431.7 708.48,443.63 702.41,447.11" fill="#bdb7b4" stroke="#bdb7b4"/><path d="M684.21 434.93 L684.21 421.43 A3.01 1.72 0 0 1 690.22 421.43 L690.22 434.93 A3.01 1.72 0 0 1 684.21 434.93 Z" fill="#e8e6e5"/><ellipse cx="687.22" cy="421.43" rx="3.01" ry="1.72" fill="#fafafa"/><rect x="688.42" y="421.43" width="1.6" height="13" fill="#000" fill-opacity="0.07"/><path d="M689.07 437.72 L689.07 424.22 A3.01 1.72 0 0 1 695.08 424.22 L695.08 437.72 A3.01 1.72 0 0 1 689.07 437.72 Z" fill="#e8e6e5"/><ellipse cx="692.08" cy="424.22" rx="3.01" ry="1.72" fill="#fafafa"/><rect x="693.28" y="424.22" width="1.6" height="13" fill="#000" fill-opacity="0.07"/><path d="M693.93 440.5 L693.93 427 A3.01 1.72 0 0 1 699.95 427 L699.95 440.5 A3.01 1.72 0 0 1 693.93 440.5 Z" fill="#e8e6e5"/><ellipse cx="696.94" cy="427" rx="3.01" ry="1.72" fill="#fafafa"/><rect x="698.14" y="427" width="1.6" height="13" fill="#000" fill-opacity="0.07"/><path d="M698.79 443.28 L698.79 429.78 A3.01 1.72 0 0 1 704.81 429.78 L704.81 443.28 A3.01 1.72 0 0 1 698.79 443.28 Z" fill="#e8e6e5"/><ellipse cx="701.8" cy="429.78" rx="3.01" ry="1.72" fill="#fafafa"/><rect x="703" y="429.78" width="1.6" height="13" fill="#000" fill-opacity="0.07"/>
<polygon points="664.21,444.62 667.25,442.88 678.54,449.35 675.5,451.08" fill="#bdb7b4" stroke="#bdb7b4"/><polygon points="667.69,444.13 676.37,449.1 676.37,443.5 667.69,438.53" fill="#dad8d6" stroke="#dad8d6"/><polygon points="676.37,449.1 684.18,444.62 684.18,439.02 676.37,443.5" fill="#efeeec" stroke="#efeeec"/><polygon points="667.69,438.53 675.5,434.05 684.18,439.02 676.37,443.5" fill="#fcfcfb" stroke="#fcfcfb"/><polygon points="675.93,452.33 678.97,450.59 690.25,457.05 687.22,458.79" fill="#bdb7b4" stroke="#bdb7b4"/><polygon points="679.4,451.83 688.08,456.8 688.08,451.2 679.4,446.23" fill="#dad8d6" stroke="#dad8d6"/><polygon points="688.08,456.8 695.9,452.33 695.9,446.73 688.08,451.2" fill="#efeeec" stroke="#efeeec"/><polygon points="679.4,446.23 687.22,441.76 695.9,446.73 688.08,451.2" fill="#fcfcfb" stroke="#fcfcfb"/>
<ellipse cx="718.3" cy="454.3" rx="5" ry="2.4" fill="#88b446"/><rect x="717.6" y="444" width="1.4" height="10" fill="#7b5a2c"/><ellipse cx="718.3" cy="441.4" rx="6.5" ry="5.5" fill="#a3cd4c"/><ellipse cx="717" cy="439.8" rx="4.2" ry="3.3" fill="#b1d85c"/>
<ellipse cx="703.3" cy="461.8" rx="5" ry="2.4" fill="#88b446"/><rect x="702.6" y="451.5" width="1.4" height="10" fill="#7b5a2c"/><path d="M703.3 441.5 C706.8 442.5 709.9 450.5 709.3 453 C708.3 455.2 698.3 455.2 697.3 453 C696.7 450.5 699.8 442.5 703.3 441.5 Z" fill="#a3cd4c"/><ellipse cx="702.3" cy="447.5" rx="2.8" ry="3.6" fill="#b1d85c"/>
</g>
<g id="fork">
<defs><linearGradient id="brl" x1="0" y1="0" x2="1" y2="0"><stop offset="0" stop-color="#f3b200"/><stop offset="0.35" stop-color="#fdc60c"/><stop offset="0.75" stop-color="#f5b600"/><stop offset="1" stop-color="#e9a800"/></linearGradient></defs>
<polygon points="243,212 262,203 330,225 420,232 425,243 351,281 318,262 300,262" fill="#e6e6e6"/>
<g transform="translate(240 128) scale(0.15669)">
<path d="M336.53 33.87 L340.27 114.89" stroke="#3c3d3f" stroke-width="27" fill="none" stroke-linejoin="round" stroke-linecap="round"/>
<path d="M333.41 27.64 L504.79 127.35" stroke="#47484a" stroke-width="28" fill="none" stroke-linejoin="round" stroke-linecap="round"/>
<path d="M505 127 C548 168 586 243 598 295" stroke="#3c3d3f" stroke-width="27" fill="none"/>
<polygon points="31.16,379.38 32.41,522.72 62.32,539.54 133.99,616.2 252.4,656.7 292.9,628.66 339.64,641.12 398.85,613.08 430.01,578.8 430.01,488.44 280.44,581.92 56.09,373.15" fill="#56585b"/>
<polygon points="280.44,581.92 330.3,535.18 389.5,522.72 430.01,550.76 430.01,578.8 398.85,613.08 339.64,641.12 292.9,628.66" fill="#707173"/>
<g transform="rotate(-14 115.29 550.76)">
<ellipse cx="115.29" cy="550.76" rx="54.84" ry="72.29" fill="#2e2f31"/>
<ellipse cx="105.94" cy="550.76" rx="32.41" ry="43.62" fill="#e6e7e9"/>
<ellipse cx="103.45" cy="552.01" rx="18.7" ry="26.17" fill="#cfd0d3"/>
</g>
<polygon points="31.16,379.38 32.41,488.44 56.09,469.74 99.71,466.63 143.34,488.44 174.5,544.53 186.96,600.62 133.99,616.2 186.96,550.76 56.09,373.15" fill="#56585b"/>
<polygon points="52.97,348.59 68.55,317.43 124.64,273.8 230.58,199.02 269.22,197.77 275.45,230.18 281.69,354.82 348.99,417.14 373.92,412.41 390.12,444.82 386.38,482.21 348.99,508.38 324.06,544.53 300.38,589.4 274.21,570.7 59.2,383.74 53.6,345.1" fill="#fbbd13"/>
<polygon points="373.92,426.12 461.17,475.98 464.28,597.5 430.01,581.92 398.85,550.76 330.3,538.3 311.6,563.22 336.53,504.02" fill="#4a4b4d"/>
<polygon points="56.09,338.87 59.2,383.74 274.21,570.7 281.69,583.17 300.38,522.72 300.38,457.28 292.9,426.12" fill="#f8b417"/>
<polygon points="52.97,348.59 68.55,317.43 124.64,273.8 230.58,199.02 269.22,197.77 275.45,230.18 269.22,304.96 281.69,354.82 348.99,417.14 373.92,412.41 292.9,426.12 186.96,370.03 59.2,335.76" fill="#fdc410"/>
<polygon points="292.9,426.12 373.92,412.41 390.12,444.82 386.38,482.21 348.99,508.38 324.06,544.53 300.38,589.4 281.69,583.17 300.38,522.72 300.38,457.28" fill="#f3a224"/>
<path d="M57.96 381.25 L274.21 569.46" stroke="#e8392b" stroke-width="9" fill="none" stroke-linejoin="round" stroke-linecap="round" stroke-linecap="butt"/>
<polygon points="264.86,230.18 292.9,210.24 314.72,220.83 311.6,273.8 330.3,348.59 373.92,404.68 355.22,424.62 280.44,361.05 264.86,304.96" fill="#3a3b3d"/>
<polygon points="305.37,317.43 348.99,329.89 405.08,367.28 449.95,354.82 476.75,407.79 468.65,498.16 430.01,510.62 398.85,417.14 336.53,379.75" fill="#1d6fb8"/>
<polygon points="302.25,237.66 324.06,217.72 358.34,195.9 398.85,216.47 436.24,273.8 473.63,304.96 493.57,329.89 481.11,349.83 436.24,329.89 405.08,368.53 348.99,329.89 311.6,292.5" fill="#f28c28"/>
<path d="M377.04 214.6 L398.85 329.89" stroke="#1d6fb8" stroke-width="20" fill="none" stroke-linejoin="round" stroke-linecap="round" stroke-linecap="butt"/>
<ellipse cx="367.69" cy="170.98" rx="23.68" ry="27.42" fill="#f29a4a"/>
<polygon points="341.51,161.63 348.99,133.58 380.15,121.12 398.85,142.93 398.85,161.63 367.69,152.28" fill="#f7941d"/>
<path d="M436.24 361.05 L498.56 337.37" stroke="#2f3032" stroke-width="20" fill="none" stroke-linejoin="round" stroke-linecap="round"/>
<path d="M461.17 361.05 L486.1 417.14 L529.72 442.07" stroke="#3c3d3f" stroke-width="26" fill="none" stroke-linejoin="round" stroke-linecap="round"/>
<polygon points="448.7,494.67 537.2,456.03 543.43,569.46 498.56,608.09 454.94,588.15" fill="#f0a024"/>
<polygon points="482.98,609.96 498.56,608.09 543.43,569.46 548.42,631.78 511.02,656.7" fill="#35363a"/>
<path d="M177.61 121.12 L140.22 389.1" stroke="#47484a" stroke-width="28" fill="none" stroke-linejoin="round" stroke-linecap="round"/>
<path d="M177.61 121.12 L333.41 27.64" stroke="#47484a" stroke-width="28" fill="none" stroke-linejoin="round" stroke-linecap="round"/>
<path d="M274.21 161.63 L411.31 86.84" stroke="#47484a" stroke-width="23" fill="none" stroke-linejoin="round" stroke-linecap="round"/>
<path d="M311.6 186.56 L461.17 105.54" stroke="#47484a" stroke-width="23" fill="none" stroke-linejoin="round" stroke-linecap="round"/>
<path d="M361.46 211.48 L504.79 127.35" stroke="#47484a" stroke-width="28" fill="none" stroke-linejoin="round" stroke-linecap="round"/>
<path d="M177.61 121.12 L361.46 211.48" stroke="#47484a" stroke-width="28" fill="none" stroke-linejoin="round" stroke-linecap="round"/>
<path d="M361 211 C385 250 410 340 425 430 L440 585" stroke="#3c3d3f" stroke-width="27" fill="none"/>
<polygon points="540,305 592,288 596,640 546,652" fill="#3d3e40"/>
<polygon points="560,520 600,505 603,640 565,655" fill="#55575a"/>
<polygon points="540,300 712,216 712,262 544,346" fill="#3d3e40"/>
<polygon points="585,322 705,262 705,290 585,352" fill="#fdc112"/>
<polygon points="598,316 610,310 620,337 608,343" fill="#222"/><polygon points="626,302 638,296 648,323 636,329" fill="#222"/><polygon points="654,288 666,282 676,309 664,315" fill="#222"/><polygon points="682,274 694,268 704,295 692,301" fill="#222"/>
<polygon points="612,330 636,318 640,560 616,572" fill="#3d3e40"/>
<polygon points="672,232 712,214 712,430 676,440" fill="#3d3e40"/>
<polygon points="529.72,556.99 560.88,570.7 567.11,664.18 535.95,650.47" fill="#f4ad1b"/>
<polygon points="249.28,656.7 287.92,628.66 339.64,647.36 373.92,638.01 423.78,600.62 468.65,603.73 487.34,644.24 474.88,664.18 436.24,682.88 373.92,656.7 336.53,664.18 311.6,692.23" fill="#fdc410"/>
<polygon points="249.28,656.7 311.6,692.23 336.53,664.18 311.6,656.7 287.92,628.66" fill="#f3a81c"/>
<g transform="rotate(-14 414.43 747.07)">
<ellipse cx="431.88" cy="751.07" rx="69.8" ry="93.48" fill="#232426"/>
<ellipse cx="414.43" cy="747.07" rx="69.8" ry="93.48" fill="#323335"/>
<ellipse cx="400.72" cy="755.07" rx="39.88" ry="54.84" fill="#e6e7e9"/>
<ellipse cx="398.22" cy="759.07" rx="23.68" ry="33.65" fill="#cfd0d3"/>
</g>
<polygon points="436.24,682.88 474.88,664.18 487.34,644.24 498.56,656.7 492.33,687.86 461.17,712.79" fill="#232426"/>
</g>
<g transform="translate(310 150) scale(0.1399)">
<polygon points="35,635 330,800 330,852 35,672" fill="#ead6a0"/>
<polygon points="330,800 775,565 775,602 330,852" fill="#dcc388"/>
<polygon points="380,800 520,726 520,745 380,820" fill="#b89f66"/>
<polygon points="585,692 730,615 730,632 585,710" fill="#b89f66"/>
<polygon points="100,690 170,730 170,752 100,712" fill="#c9b079"/>
<polygon points="225,760 300,800 300,822 225,782" fill="#c9b079"/>
<polygon points="35,635 480,400 775,565 330,800" fill="#f6e6bb"/>
<path d="M94 668 L539 433 M153 701 L598 466 M212 734 L657 499 M271 767 L716 532 " stroke="#d9c48e" stroke-width="7" fill="none"/>
<polygon points="95,690 135,710 135,745 95,725" fill="#e9a21c"/>
<path d="M380 270 L380 578 A125 70 0 0 0 630 578 L630 270 A125 70 0 0 0 380 270 Z" fill="url(#brl)"/><path d="M380 405 A125 70 0 0 0 630 405" fill="none" stroke="#e0a200" stroke-width="5" stroke-opacity="0.75"/><path d="M380 400 A125 70 0 0 0 630 400" fill="none" stroke="#ffd23a" stroke-width="3" stroke-opacity="0.7"/><path d="M380 520 A125 70 0 0 0 630 520" fill="none" stroke="#e0a200" stroke-width="5" stroke-opacity="0.75"/><path d="M380 515 A125 70 0 0 0 630 515" fill="none" stroke="#ffd23a" stroke-width="3" stroke-opacity="0.7"/><ellipse cx="505" cy="270" rx="125" ry="70" fill="#f3b400"/><ellipse cx="505" cy="273" rx="120" ry="65" fill="#fec80e"/><g transform="matrix(0.9 -0.35 0 1 575 476)"><circle r="37" fill="#2b2b2b"/><path d="M5 -8.65 L15.17 -26.28 A30.34 30.34 0 0 1 30.34 0 L9.99 0 A9.99 9.99 0 0 0 5 -8.65 Z" fill="#fdc30c"/><path d="M-9.99 -0 L-30.34 -0 A30.34 30.34 0 0 1 -15.17 -26.28 L-4.99 -8.65 A9.99 9.99 0 0 0 -9.99 -0 Z" fill="#fdc30c"/><path d="M5 8.65 L15.17 26.28 A30.34 30.34 0 0 1 -15.17 26.28 L-4.99 8.65 A9.99 9.99 0 0 0 5 8.65 Z" fill="#fdc30c"/><circle r="6.29" fill="#fdc30c"/></g>
<path d="M200 375 L200 688 A125 70 0 0 0 450 688 L450 375 A125 70 0 0 0 200 375 Z" fill="url(#brl)"/><path d="M200 510 A125 70 0 0 0 450 510" fill="none" stroke="#e0a200" stroke-width="5" stroke-opacity="0.75"/><path d="M200 505 A125 70 0 0 0 450 505" fill="none" stroke="#ffd23a" stroke-width="3" stroke-opacity="0.7"/><path d="M200 625 A125 70 0 0 0 450 625" fill="none" stroke="#e0a200" stroke-width="5" stroke-opacity="0.75"/><path d="M200 620 A125 70 0 0 0 450 620" fill="none" stroke="#ffd23a" stroke-width="3" stroke-opacity="0.7"/><ellipse cx="325" cy="375" rx="125" ry="70" fill="#f3b400"/><ellipse cx="325" cy="378" rx="120" ry="65" fill="#fec80e"/><g transform="matrix(0.9 -0.35 0 1 395 582)"><circle r="37" fill="#2b2b2b"/><path d="M5 -8.65 L15.17 -26.28 A30.34 30.34 0 0 1 30.34 0 L9.99 0 A9.99 9.99 0 0 0 5 -8.65 Z" fill="#fdc30c"/><path d="M-9.99 -0 L-30.34 -0 A30.34 30.34 0 0 1 -15.17 -26.28 L-4.99 -8.65 A9.99 9.99 0 0 0 -9.99 -0 Z" fill="#fdc30c"/><path d="M5 8.65 L15.17 26.28 A30.34 30.34 0 0 1 -15.17 26.28 L-4.99 8.65 A9.99 9.99 0 0 0 5 8.65 Z" fill="#fdc30c"/><circle r="6.29" fill="#fdc30c"/></g>
</g>
</g>
<g>
<clipPath id="bc0"><rect x="77" y="192" width="53" height="434.2"/></clipPath>
<rect x="77" y="192" width="53" height="434.2" fill="url(#barg)"/>
<g clip-path="url(#bc0)" fill="#fff" fill-opacity="0.23">
<polygon points="77,579.8 130,526.8 130,575.7 77,628.7"/>
<polygon points="77,579.8 130,526.8 130,528.3 77,581.3" fill-opacity="0.16"/>
<polygon points="77,463.8 130,410.8 130,459.7 77,512.7"/>
<polygon points="77,463.8 130,410.8 130,412.3 77,465.3" fill-opacity="0.16"/>
<polygon points="77,347.8 130,294.8 130,343.7 77,396.7"/>
<polygon points="77,347.8 130,294.8 130,296.3 77,349.3" fill-opacity="0.16"/>
<polygon points="77,231.8 130,178.8 130,227.7 77,280.7"/>
<polygon points="77,231.8 130,178.8 130,180.3 77,233.3" fill-opacity="0.16"/>
</g></g>
<g>
<clipPath id="bc1"><rect x="178.5" y="306" width="53" height="320.2"/></clipPath>
<rect x="178.5" y="306" width="53" height="320.2" fill="url(#barg)"/>
<g clip-path="url(#bc1)" fill="#fff" fill-opacity="0.23">
<polygon points="178.5,579.8 231.5,526.8 231.5,575.7 178.5,628.7"/>
<polygon points="178.5,579.8 231.5,526.8 231.5,528.3 178.5,581.3" fill-opacity="0.16"/>
<polygon points="178.5,463.8 231.5,410.8 231.5,459.7 178.5,512.7"/>
<polygon points="178.5,463.8 231.5,410.8 231.5,412.3 178.5,465.3" fill-opacity="0.16"/>
<polygon points="178.5,347.8 231.5,294.8 231.5,343.7 178.5,396.7"/>
<polygon points="178.5,347.8 231.5,294.8 231.5,296.3 178.5,349.3" fill-opacity="0.16"/>
</g></g>
<g id="cart"><defs><linearGradient id="cang" x1="0" y1="0" x2="1" y2="0"><stop offset="0" stop-color="#cfd0d0"/><stop offset="0.08" stop-color="#f3f3f3"/><stop offset="0.27" stop-color="#f7f7f7"/><stop offset="0.40" stop-color="#c2c4c4"/><stop offset="0.56" stop-color="#a4a7a7"/><stop offset="0.76" stop-color="#989b9b"/><stop offset="0.92" stop-color="#b6b8b8"/><stop offset="1" stop-color="#9a9c9c"/></linearGradient><linearGradient id="lidg" x1="0" y1="0" x2="1" y2="1"><stop offset="0" stop-color="#e2e3e3"/><stop offset="1" stop-color="#a9acac"/></linearGradient><clipPath id="cartclip"><rect x="0" y="-40" width="746" height="1000"/></clipPath></defs>
<g transform="translate(130 485) scale(0.20151)" clip-path="url(#cartclip)">
<polygon points="48,722 330,872 790,610 760,560" fill="#e7e7e7"/>
<ellipse cx="345" cy="818" rx="26" ry="24" fill="#2a2c2d"/>
<ellipse cx="697" cy="616" rx="24" ry="22" fill="#2a2c2d"/>
<path d="M608 135 C612 70 625 48 648 52 L760 108" stroke="#3a464a" stroke-width="14" fill="none"/>
<polygon points="45,672 322,802 322,816 45,686" fill="#2a3336"/>
<polygon points="322,802 790,535 790,549 322,816" fill="#232b2e"/>
<polygon points="45,672 520,440 790,535 322,802" fill="#3c484c"/>
<path d="M392 108 L392 560 A63 34 0 0 0 518 560 L518 108 Z" fill="url(#cang)"/><ellipse cx="455" cy="110" rx="72" ry="40" fill="#a4a7a7"/><ellipse cx="455" cy="100" rx="72" ry="40" fill="url(#lidg)"/><ellipse cx="455" cy="100" rx="44.64" ry="24.8" fill="#c3c5c5"/><path d="M397.4 114 L512.6 86 M415.4 76 L494.6 124" stroke="#eeeeee" stroke-width="8" stroke-opacity="0.8"/><ellipse cx="463" cy="106" rx="25.92" ry="12" fill="#8e9191"/>
<path d="M507 163 L507 585 A63 34 0 0 0 633 585 L633 163 Z" fill="url(#cang)"/><ellipse cx="570" cy="165" rx="72" ry="40" fill="#a4a7a7"/><ellipse cx="570" cy="155" rx="72" ry="40" fill="url(#lidg)"/><ellipse cx="570" cy="155" rx="44.64" ry="24.8" fill="#c3c5c5"/><path d="M512.4 169 L627.6 141 M530.4 131 L609.6 179" stroke="#eeeeee" stroke-width="8" stroke-opacity="0.8"/><ellipse cx="578" cy="161" rx="25.92" ry="12" fill="#8e9191"/><polygon points="545,273 575,327 523,317" fill="#f6c915"/><circle cx="547" cy="301" r="5.2" fill="#4a3a1a"/><circle cx="555" cy="315" r="5.2" fill="#4a3a1a"/><circle cx="539" cy="315" r="5.2" fill="#4a3a1a"/><circle cx="547" cy="310" r="2.2" fill="#4a3a1a"/><rect x="529" y="14.44" width="22" height="6" fill="#555" fill-opacity="0.55" transform="skewY(20)"/>
<path d="M277 173 L277 600 A63 34 0 0 0 403 600 L403 173 Z" fill="url(#cang)"/><ellipse cx="340" cy="175" rx="72" ry="40" fill="#a4a7a7"/><ellipse cx="340" cy="165" rx="72" ry="40" fill="url(#lidg)"/><ellipse cx="340" cy="165" rx="44.64" ry="24.8" fill="#c3c5c5"/><path d="M282.4 179 L397.6 151 M300.4 141 L379.6 189" stroke="#eeeeee" stroke-width="8" stroke-opacity="0.8"/><ellipse cx="348" cy="171" rx="25.92" ry="12" fill="#8e9191"/>
<path d="M392 223 L392 650 A63 34 0 0 0 518 650 L518 223 Z" fill="url(#cang)"/><ellipse cx="455" cy="225" rx="72" ry="40" fill="#a4a7a7"/><ellipse cx="455" cy="215" rx="72" ry="40" fill="url(#lidg)"/><ellipse cx="455" cy="215" rx="44.64" ry="24.8" fill="#c3c5c5"/><path d="M397.4 229 L512.6 201 M415.4 191 L494.6 239" stroke="#eeeeee" stroke-width="8" stroke-opacity="0.8"/><ellipse cx="463" cy="221" rx="25.92" ry="12" fill="#8e9191"/><polygon points="432,336 462,390 410,380" fill="#f6c915"/><circle cx="434" cy="364" r="5.2" fill="#4a3a1a"/><circle cx="442" cy="378" r="5.2" fill="#4a3a1a"/><circle cx="426" cy="378" r="5.2" fill="#4a3a1a"/><circle cx="434" cy="373" r="2.2" fill="#4a3a1a"/><rect x="414" y="116.3" width="22" height="6" fill="#555" fill-opacity="0.55" transform="skewY(20)"/>
<path d="M159 233 L159 655 A63 34 0 0 0 285 655 L285 233 Z" fill="url(#cang)"/><ellipse cx="222" cy="235" rx="72" ry="40" fill="#a4a7a7"/><ellipse cx="222" cy="225" rx="72" ry="40" fill="url(#lidg)"/><ellipse cx="222" cy="225" rx="44.64" ry="24.8" fill="#c3c5c5"/><path d="M164.4 239 L279.6 211 M182.4 201 L261.6 249" stroke="#eeeeee" stroke-width="8" stroke-opacity="0.8"/><ellipse cx="230" cy="231" rx="25.92" ry="12" fill="#8e9191"/><polygon points="197,343 227,397 175,387" fill="#f6c915"/><circle cx="199" cy="371" r="5.2" fill="#4a3a1a"/><circle cx="207" cy="385" r="5.2" fill="#4a3a1a"/><circle cx="191" cy="385" r="5.2" fill="#4a3a1a"/><circle cx="199" cy="380" r="2.2" fill="#4a3a1a"/><rect x="181" y="211.12" width="22" height="6" fill="#555" fill-opacity="0.55" transform="skewY(20)"/>
<path d="M282 288 L282 708 A63 34 0 0 0 408 708 L408 288 Z" fill="url(#cang)"/><ellipse cx="345" cy="290" rx="72" ry="40" fill="#a4a7a7"/><ellipse cx="345" cy="280" rx="72" ry="40" fill="url(#lidg)"/><ellipse cx="345" cy="280" rx="44.64" ry="24.8" fill="#c3c5c5"/><path d="M287.4 294 L402.6 266 M305.4 256 L384.6 304" stroke="#eeeeee" stroke-width="8" stroke-opacity="0.8"/><ellipse cx="353" cy="286" rx="25.92" ry="12" fill="#8e9191"/><polygon points="315,398 345,452 293,442" fill="#f6c915"/><circle cx="317" cy="426" r="5.2" fill="#4a3a1a"/><circle cx="325" cy="440" r="5.2" fill="#4a3a1a"/><circle cx="309" cy="440" r="5.2" fill="#4a3a1a"/><circle cx="317" cy="435" r="2.2" fill="#4a3a1a"/><rect x="304" y="221.34" width="22" height="6" fill="#555" fill-opacity="0.55" transform="skewY(20)"/>
</g></g>
<g>
<clipPath id="bc2"><rect x="279.8" y="419.6" width="53" height="206.6"/></clipPath>
<rect x="279.8" y="419.6" width="53" height="206.6" fill="url(#barg)"/>
<g clip-path="url(#bc2)" fill="#fff" fill-opacity="0.23">
<polygon points="279.8,579.8 332.8,526.8 332.8,575.7 279.8,628.7"/>
<polygon points="279.8,579.8 332.8,526.8 332.8,528.3 279.8,581.3" fill-opacity="0.16"/>
<polygon points="279.8,463.8 332.8,410.8 332.8,459.7 279.8,512.7"/>
<polygon points="279.8,463.8 332.8,410.8 332.8,412.3 279.8,465.3" fill-opacity="0.16"/>
</g></g>
<g>
<clipPath id="bc3"><rect x="381.2" y="482.1" width="53" height="144.1"/></clipPath>
<rect x="381.2" y="482.1" width="53" height="144.1" fill="url(#barg)"/>
<g clip-path="url(#bc3)" fill="#fff" fill-opacity="0.23">
<polygon points="381.2,579.8 434.2,526.8 434.2,575.7 381.2,628.7"/>
<polygon points="381.2,579.8 434.2,526.8 434.2,528.3 381.2,581.3" fill-opacity="0.16"/>
<polygon points="381.2,463.8 434.2,410.8 434.2,459.7 381.2,512.7"/>
<polygon points="381.2,463.8 434.2,410.8 434.2,412.3 381.2,465.3" fill-opacity="0.16"/>
</g></g>
<g>
<clipPath id="bc4"><rect x="482.8" y="508.9" width="53" height="117.3"/></clipPath>
<rect x="482.8" y="508.9" width="53" height="117.3" fill="url(#barg)"/>
<g clip-path="url(#bc4)" fill="#fff" fill-opacity="0.23">
<polygon points="482.8,579.8 535.8,526.8 535.8,575.7 482.8,628.7"/>
<polygon points="482.8,579.8 535.8,526.8 535.8,528.3 482.8,581.3" fill-opacity="0.16"/>
<polygon points="482.8,463.8 535.8,410.8 535.8,459.7 482.8,512.7"/>
<polygon points="482.8,463.8 535.8,410.8 535.8,412.3 482.8,465.3" fill-opacity="0.16"/>
</g></g>
<g>
<clipPath id="bc5"><rect x="583.8" y="560" width="53" height="66.2"/></clipPath>
<rect x="583.8" y="560" width="53" height="66.2" fill="url(#barg)"/>
<g clip-path="url(#bc5)" fill="#fff" fill-opacity="0.23">
<polygon points="583.8,579.8 636.8,526.8 636.8,575.7 583.8,628.7"/>
<polygon points="583.8,579.8 636.8,526.8 636.8,528.3 583.8,581.3" fill-opacity="0.16"/>
</g></g>
<g>
<clipPath id="bc6"><rect x="685.1" y="568.8" width="53" height="57.4"/></clipPath>
<rect x="685.1" y="568.8" width="53" height="57.4" fill="url(#barg)"/>
<g clip-path="url(#bc6)" fill="#fff" fill-opacity="0.23">
<polygon points="685.1,579.8 738.1,526.8 738.1,575.7 685.1,628.7"/>
<polygon points="685.1,579.8 738.1,526.8 738.1,528.3 685.1,581.3" fill-opacity="0.16"/>
</g></g>
<g>
<clipPath id="bc7"><rect x="786.7" y="572.1" width="53" height="54.1"/></clipPath>
<rect x="786.7" y="572.1" width="53" height="54.1" fill="url(#barg)"/>
<g clip-path="url(#bc7)" fill="#fff" fill-opacity="0.23">
<polygon points="786.7,579.8 839.7,526.8 839.7,575.7 786.7,628.7"/>
<polygon points="786.7,579.8 839.7,526.8 839.7,528.3 786.7,581.3" fill-opacity="0.16"/>
</g></g>
<g>
<clipPath id="bc8"><rect x="887.9" y="577.6" width="53" height="48.6"/></clipPath>
<rect x="887.9" y="577.6" width="53" height="48.6" fill="url(#barg)"/>
<g clip-path="url(#bc8)" fill="#fff" fill-opacity="0.23">
<polygon points="887.9,579.8 940.9,526.8 940.9,575.7 887.9,628.7"/>
<polygon points="887.9,579.8 940.9,526.8 940.9,528.3 887.9,581.3" fill-opacity="0.16"/>
</g></g>
<g id="sign">
<ellipse cx="986.8" cy="629.0" rx="18.5" ry="10.9" fill="#2b2b2b"/>
<ellipse cx="986.8" cy="628.1" rx="18.5" ry="10.7" fill="#b7bcbf"/>
<path d="M980.6 620.2 L980.6 627.6 A6.3 3.6 0 0 0 993.3 627.6 L993.3 620.2 Z" fill="#000"/>
<ellipse cx="987" cy="620.2" rx="6.3" ry="3.2" fill="#b7bcbf"/>
<path d="M984.8 480 L984.8 619.6 A2.3 1.2 0 0 0 989.4 619.6 L989.4 480 Z" fill="#000"/>
<g fill="#e9a700"><circle r="37.4" transform="matrix(0.866 0.5 0 1 989.99 448.7)"/><circle r="37.4" transform="matrix(0.866 0.5 0 1 989.34 449.07)"/><circle r="37.4" transform="matrix(0.866 0.5 0 1 988.7 449.45)"/><circle r="37.4" transform="matrix(0.866 0.5 0 1 988.05 449.82)"/><circle r="37.4" transform="matrix(0.866 0.5 0 1 987.4 450.2)"/><circle r="37.4" transform="matrix(0.866 0.5 0 1 986.75 450.57)"/><circle r="37.4" transform="matrix(0.866 0.5 0 1 986.1 450.95)"/><circle r="37.4" transform="matrix(0.866 0.5 0 1 985.45 451.32)"/><circle r="37.4" transform="matrix(0.866 0.5 0 1 984.8 451.7)"/><circle r="37.4" transform="matrix(0.866 0.5 0 1 984.15 452.07)"/><circle r="37.4" transform="matrix(0.866 0.5 0 1 983.5 452.45)"/><circle r="37.4" transform="matrix(0.866 0.5 0 1 982.85 452.82)"/><circle r="37.4" transform="matrix(0.866 0.5 0 1 982.2 453.2)"/></g>
<g transform="matrix(0.866 0.5 0 1 982.2 453.2)">
<circle r="37.4" fill="#ffc30b"/>
<circle r="30.6" fill="none" stroke="#2e383c" stroke-width="3.3"/>
<path d="M3.65 -6.32 L13.15 -22.78 A26.3 26.3 0 0 1 26.3 0 L7.3 0 A7.3 7.3 0 0 0 3.65 -6.32 Z" fill="#2e383c"/>
<path d="M-7.3 -0 L-26.3 -0 A26.3 26.3 0 0 1 -13.15 -22.78 L-3.65 -6.32 A7.3 7.3 0 0 0 -7.3 -0 Z" fill="#2e383c"/>
<path d="M3.65 6.32 L13.15 22.78 A26.3 26.3 0 0 1 -13.15 22.78 L-3.65 6.32 A7.3 7.3 0 0 0 3.65 6.32 Z" fill="#2e383c"/>
<circle r="4.8" fill="#2e383c"/>
</g></g>
<text x="104.1" y="176.3" font-size="29.7" fill="#2c383e" font-weight="bold" text-anchor="middle" textLength="85" lengthAdjust="spacingAndGlyphs">18 137</text>
<text x="205.6" y="290.3" font-size="29.7" fill="#2c383e" font-weight="bold" text-anchor="middle" textLength="84" lengthAdjust="spacingAndGlyphs">13 132</text>
<text x="306.9" y="403.9" font-size="29.7" fill="#2c383e" font-weight="bold" text-anchor="middle" textLength="69.7" lengthAdjust="spacingAndGlyphs">8 232</text>
<text x="408.3" y="466.4" font-size="29.7" fill="#2c383e" font-weight="bold" text-anchor="middle" textLength="69.2" lengthAdjust="spacingAndGlyphs">5 436</text>
<text x="509.9" y="493.2" font-size="29.7" fill="#2c383e" font-weight="bold" text-anchor="middle" textLength="70.2" lengthAdjust="spacingAndGlyphs">4 309</text>
<text x="610.9" y="544.3" font-size="29.7" fill="#2c383e" font-weight="bold" text-anchor="middle" textLength="69" lengthAdjust="spacingAndGlyphs">2 180</text>
<text x="712.2" y="553.1" font-size="29.7" fill="#2c383e" font-weight="bold" text-anchor="middle" textLength="66.9" lengthAdjust="spacingAndGlyphs">1 725</text>
<text x="813.8" y="556.4" font-size="29.7" fill="#2c383e" font-weight="bold" text-anchor="middle" textLength="68.4" lengthAdjust="spacingAndGlyphs">1 673</text>
<text x="915" y="561.9" font-size="29.7" fill="#2c383e" font-weight="bold" text-anchor="middle" textLength="68" lengthAdjust="spacingAndGlyphs">1 455</text>
<clipPath id="fc0"><circle cx="103.5" cy="706.9" r="34.1"/></clipPath>
<clipPath id="fc1"><circle cx="205" cy="706.9" r="34.1"/></clipPath>
<clipPath id="fc2"><circle cx="306.3" cy="706.9" r="34.1"/></clipPath>
<clipPath id="fc3"><circle cx="407.7" cy="706.9" r="34.1"/></clipPath>
<clipPath id="fc4"><circle cx="509.3" cy="706.9" r="34.1"/></clipPath>
<clipPath id="fc5"><circle cx="610.3" cy="706.9" r="34.1"/></clipPath>
<clipPath id="fc6"><circle cx="711.6" cy="706.9" r="34.1"/></clipPath>
<clipPath id="fc7"><circle cx="813.1" cy="706.9" r="34.1"/></clipPath>
<clipPath id="fc8"><circle cx="914.4" cy="706.9" r="34.1"/></clipPath>
<g clip-path="url(#fc0)"><rect x="49.4" y="672.8" width="128.2" height="68.2" fill="#fff"/><rect x="49.4" y="672.8" width="128.2" height="5.25" fill="#b22234"/><rect x="49.4" y="683.29" width="128.2" height="5.25" fill="#b22234"/><rect x="49.4" y="693.78" width="128.2" height="5.25" fill="#b22234"/><rect x="49.4" y="704.28" width="128.2" height="5.25" fill="#b22234"/><rect x="49.4" y="714.77" width="128.2" height="5.25" fill="#b22234"/><rect x="49.4" y="725.26" width="128.2" height="5.25" fill="#b22234"/><rect x="49.4" y="735.75" width="128.2" height="5.25" fill="#b22234"/><rect x="49.4" y="672.8" width="54.5" height="36.72" fill="#3c3b6e"/><polygon points="56.39,674.92 56.74,675.99 57.86,675.99 56.95,676.66 57.3,677.73 56.39,677.06 55.48,677.73 55.83,676.66 54.92,675.99 56.04,675.99" fill="#fff"/><polygon points="65.03,674.92 65.38,675.99 66.5,675.99 65.59,676.66 65.94,677.73 65.03,677.06 64.12,677.73 64.47,676.66 63.55,675.99 64.68,675.99" fill="#fff"/><polygon points="73.67,674.92 74.01,675.99 75.14,675.99 74.23,676.66 74.58,677.73 73.67,677.06 72.76,677.73 73.1,676.66 72.19,675.99 73.32,675.99" fill="#fff"/><polygon points="82.3,674.92 82.65,675.99 83.78,675.99 82.87,676.66 83.22,677.73 82.3,677.06 81.39,677.73 81.74,676.66 80.83,675.99 81.96,675.99" fill="#fff"/><polygon points="90.94,674.92 91.29,675.99 92.42,675.99 91.51,676.66 91.85,677.73 90.94,677.06 90.03,677.73 90.38,676.66 89.47,675.99 90.59,675.99" fill="#fff"/><polygon points="99.58,674.92 99.93,675.99 101.06,675.99 100.14,676.66 100.49,677.73 99.58,677.06 98.67,677.73 99.02,676.66 98.11,675.99 99.23,675.99" fill="#fff"/><polygon points="60.71,678.59 61.06,679.67 62.18,679.67 61.27,680.33 61.62,681.4 60.71,680.74 59.8,681.4 60.15,680.33 59.24,679.67 60.36,679.67" fill="#fff"/><polygon points="69.35,678.59 69.7,679.67 70.82,679.67 69.91,680.33 70.26,681.4 69.35,680.74 68.44,681.4 68.78,680.33 67.87,679.67 69,679.67" fill="#fff"/><polygon points="77.99,678.59 78.33,679.67 79.46,679.67 78.55,680.33 78.9,681.4 77.99,680.74 77.07,681.4 77.42,680.33 76.51,679.67 77.64,679.67" fill="#fff"/><polygon points="86.62,678.59 86.97,679.67 88.1,679.67 87.19,680.33 87.53,681.4 86.62,680.74 85.71,681.4 86.06,680.33 85.15,679.67 86.28,679.67" fill="#fff"/><polygon points="95.26,678.59 95.61,679.67 96.74,679.67 95.83,680.33 96.17,681.4 95.26,680.74 94.35,681.4 94.7,680.33 93.79,679.67 94.91,679.67" fill="#fff"/><polygon points="56.39,682.27 56.74,683.34 57.86,683.34 56.95,684 57.3,685.07 56.39,684.41 55.48,685.07 55.83,684 54.92,683.34 56.04,683.34" fill="#fff"/><polygon points="65.03,682.27 65.38,683.34 66.5,683.34 65.59,684 65.94,685.07 65.03,684.41 64.12,685.07 64.47,684 63.55,683.34 64.68,683.34" fill="#fff"/><polygon points="73.67,682.27 74.01,683.34 75.14,683.34 74.23,684 74.58,685.07 73.67,684.41 72.76,685.07 73.1,684 72.19,683.34 73.32,683.34" fill="#fff"/><polygon points="82.3,682.27 82.65,683.34 83.78,683.34 82.87,684 83.22,685.07 82.3,684.41 81.39,685.07 81.74,684 80.83,683.34 81.96,683.34" fill="#fff"/><polygon points="90.94,682.27 91.29,683.34 92.42,683.34 91.51,684 91.85,685.07 90.94,684.41 90.03,685.07 90.38,684 89.47,683.34 90.59,683.34" fill="#fff"/><polygon points="99.58,682.27 99.93,683.34 101.06,683.34 100.14,684 100.49,685.07 99.58,684.41 98.67,685.07 99.02,684 98.11,683.34 99.23,683.34" fill="#fff"/><polygon points="60.71,685.94 61.06,687.01 62.18,687.01 61.27,687.67 61.62,688.74 60.71,688.08 59.8,688.74 60.15,687.67 59.24,687.01 60.36,687.01" fill="#fff"/><polygon points="69.35,685.94 69.7,687.01 70.82,687.01 69.91,687.67 70.26,688.74 69.35,688.08 68.44,688.74 68.78,687.67 67.87,687.01 69,687.01" fill="#fff"/><polygon points="77.99,685.94 78.33,687.01 79.46,687.01 78.55,687.67 78.9,688.74 77.99,688.08 77.07,688.74 77.42,687.67 76.51,687.01 77.64,687.01" fill="#fff"/><polygon points="86.62,685.94 86.97,687.01 88.1,687.01 87.19,687.67 87.53,688.74 86.62,688.08 85.71,688.74 86.06,687.67 85.15,687.01 86.28,687.01" fill="#fff"/><polygon points="95.26,685.94 95.61,687.01 96.74,687.01 95.83,687.67 96.17,688.74 95.26,688.08 94.35,688.74 94.7,687.67 93.79,687.01 94.91,687.01" fill="#fff"/><polygon points="56.39,689.61 56.74,690.68 57.86,690.68 56.95,691.34 57.3,692.42 56.39,691.75 55.48,692.42 55.83,691.34 54.92,690.68 56.04,690.68" fill="#fff"/><polygon points="65.03,689.61 65.38,690.68 66.5,690.68 65.59,691.34 65.94,692.42 65.03,691.75 64.12,692.42 64.47,691.34 63.55,690.68 64.68,690.68" fill="#fff"/><polygon points="73.67,689.61 74.01,690.68 75.14,690.68 74.23,691.34 74.58,692.42 73.67,691.75 72.76,692.42 73.1,691.34 72.19,690.68 73.32,690.68" fill="#fff"/><polygon points="82.3,689.61 82.65,690.68 83.78,690.68 82.87,691.34 83.22,692.42 82.3,691.75 81.39,692.42 81.74,691.34 80.83,690.68 81.96,690.68" fill="#fff"/><polygon points="90.94,689.61 91.29,690.68 92.42,690.68 91.51,691.34 91.85,692.42 90.94,691.75 90.03,692.42 90.38,691.34 89.47,690.68 90.59,690.68" fill="#fff"/><polygon points="99.58,689.61 99.93,690.68 101.06,690.68 100.14,691.34 100.49,692.42 99.58,691.75 98.67,692.42 99.02,691.34 98.11,690.68 99.23,690.68" fill="#fff"/><polygon points="60.71,693.28 61.06,694.35 62.18,694.35 61.27,695.02 61.62,696.09 60.71,695.43 59.8,696.09 60.15,695.02 59.24,694.35 60.36,694.35" fill="#fff"/><polygon points="69.35,693.28 69.7,694.35 70.82,694.35 69.91,695.02 70.26,696.09 69.35,695.43 68.44,696.09 68.78,695.02 67.87,694.35 69,694.35" fill="#fff"/><polygon points="77.99,693.28 78.33,694.35 79.46,694.35 78.55,695.02 78.9,696.09 77.99,695.43 77.07,696.09 77.42,695.02 76.51,694.35 77.64,694.35" fill="#fff"/><polygon points="86.62,693.28 86.97,694.35 88.1,694.35 87.19,695.02 87.53,696.09 86.62,695.43 85.71,696.09 86.06,695.02 85.15,694.35 86.28,694.35" fill="#fff"/><polygon points="95.26,693.28 95.61,694.35 96.74,694.35 95.83,695.02 96.17,696.09 95.26,695.43 94.35,696.09 94.7,695.02 93.79,694.35 94.91,694.35" fill="#fff"/><polygon points="56.39,696.96 56.74,698.03 57.86,698.03 56.95,698.69 57.3,699.76 56.39,699.1 55.48,699.76 55.83,698.69 54.92,698.03 56.04,698.03" fill="#fff"/><polygon points="65.03,696.96 65.38,698.03 66.5,698.03 65.59,698.69 65.94,699.76 65.03,699.1 64.12,699.76 64.47,698.69 63.55,698.03 64.68,698.03" fill="#fff"/><polygon points="73.67,696.96 74.01,698.03 75.14,698.03 74.23,698.69 74.58,699.76 73.67,699.1 72.76,699.76 73.1,698.69 72.19,698.03 73.32,698.03" fill="#fff"/><polygon points="82.3,696.96 82.65,698.03 83.78,698.03 82.87,698.69 83.22,699.76 82.3,699.1 81.39,699.76 81.74,698.69 80.83,698.03 81.96,698.03" fill="#fff"/><polygon points="90.94,696.96 91.29,698.03 92.42,698.03 91.51,698.69 91.85,699.76 90.94,699.1 90.03,699.76 90.38,698.69 89.47,698.03 90.59,698.03" fill="#fff"/><polygon points="99.58,696.96 99.93,698.03 101.06,698.03 100.14,698.69 100.49,699.76 99.58,699.1 98.67,699.76 99.02,698.69 98.11,698.03 99.23,698.03" fill="#fff"/><polygon points="60.71,700.63 61.06,701.7 62.18,701.7 61.27,702.36 61.62,703.43 60.71,702.77 59.8,703.43 60.15,702.36 59.24,701.7 60.36,701.7" fill="#fff"/><polygon points="69.35,700.63 69.7,701.7 70.82,701.7 69.91,702.36 70.26,703.43 69.35,702.77 68.44,703.43 68.78,702.36 67.87,701.7 69,701.7" fill="#fff"/><polygon points="77.99,700.63 78.33,701.7 79.46,701.7 78.55,702.36 78.9,703.43 77.99,702.77 77.07,703.43 77.42,702.36 76.51,701.7 77.64,701.7" fill="#fff"/><polygon points="86.62,700.63 86.97,701.7 88.1,701.7 87.19,702.36 87.53,703.43 86.62,702.77 85.71,703.43 86.06,702.36 85.15,701.7 86.28,701.7" fill="#fff"/><polygon points="95.26,700.63 95.61,701.7 96.74,701.7 95.83,702.36 96.17,703.43 95.26,702.77 94.35,703.43 94.7,702.36 93.79,701.7 94.91,701.7" fill="#fff"/><polygon points="56.39,704.3 56.74,705.37 57.86,705.37 56.95,706.03 57.3,707.1 56.39,706.44 55.48,707.1 55.83,706.03 54.92,705.37 56.04,705.37" fill="#fff"/><polygon points="65.03,704.3 65.38,705.37 66.5,705.37 65.59,706.03 65.94,707.1 65.03,706.44 64.12,707.1 64.47,706.03 63.55,705.37 64.68,705.37" fill="#fff"/><polygon points="73.67,704.3 74.01,705.37 75.14,705.37 74.23,706.03 74.58,707.1 73.67,706.44 72.76,707.1 73.1,706.03 72.19,705.37 73.32,705.37" fill="#fff"/><polygon points="82.3,704.3 82.65,705.37 83.78,705.37 82.87,706.03 83.22,707.1 82.3,706.44 81.39,707.1 81.74,706.03 80.83,705.37 81.96,705.37" fill="#fff"/><polygon points="90.94,704.3 91.29,705.37 92.42,705.37 91.51,706.03 91.85,707.1 90.94,706.44 90.03,707.1 90.38,706.03 89.47,705.37 90.59,705.37" fill="#fff"/><polygon points="99.58,704.3 99.93,705.37 101.06,705.37 100.14,706.03 100.49,707.1 99.58,706.44 98.67,707.1 99.02,706.03 98.11,705.37 99.23,705.37" fill="#fff"/></g><circle cx="103.5" cy="706.9" r="34.1" fill="none" stroke="#8a8a8a" stroke-width="0.7"/>
<g clip-path="url(#fc1)"><rect x="170.9" y="672.8" width="68.2" height="68.2" fill="#ee1c25"/><polygon points="185.5,681 187.59,687.43 194.34,687.43 188.88,691.4 190.97,697.82 185.5,693.85 180.03,697.82 182.12,691.4 176.66,687.43 183.41,687.43" fill="#ffff00"/><polygon points="199.84,681.69 201.32,680 200.16,678.06 202.23,678.95 203.71,677.25 203.52,679.49 205.59,680.37 203.39,680.88 203.2,683.12 202.04,681.19" fill="#ffff00"/><polygon points="205.83,687.26 207.85,686.25 207.52,684.03 209.1,685.63 211.11,684.63 210.07,686.62 211.65,688.23 209.43,687.86 208.39,689.86 208.06,687.63" fill="#ffff00"/><polygon points="205.91,695.88 208.16,695.78 208.75,693.6 209.55,695.71 211.8,695.6 210.04,697.01 210.84,699.12 208.96,697.88 207.2,699.29 207.79,697.12" fill="#ffff00"/><polygon points="200.07,701.87 202.18,702.66 203.58,700.9 203.49,703.15 205.6,703.93 203.43,704.54 203.33,706.79 202.09,704.91 199.92,705.51 201.32,703.75" fill="#ffff00"/></g><circle cx="205" cy="706.9" r="34.1" fill="none" stroke="#c8282c" stroke-width="0.5"/>
<g clip-path="url(#fc2)"><rect x="272.2" y="672.8" width="68.2" height="68.2" fill="#fff"/><rect x="270.2" y="672.8" width="19.2" height="68.2" fill="#002654"/><rect x="323.2" y="672.8" width="34.1" height="68.2" fill="#ce1126"/></g><circle cx="306.3" cy="706.9" r="34.1" fill="none" stroke="#8a8a8a" stroke-width="0.7"/>
<g clip-path="url(#fc3)"><rect x="373.6" y="672.8" width="68.2" height="68.2" fill="#fff"/><rect x="373.6" y="695.7" width="68.2" height="22.6" fill="#0039a6"/><rect x="373.6" y="718.2" width="68.2" height="30" fill="#d52b1e"/></g><circle cx="407.7" cy="706.9" r="34.1" fill="none" stroke="#8a8a8a" stroke-width="0.7"/>
<g clip-path="url(#fc4)"><rect x="473.9" y="672.8" width="70.2" height="68.2" fill="#fff"/><g transform="translate(509 706.9) rotate(33.7)"><path d="M-16.9 0 A16.9 16.9 0 0 1 16.9 0 Z" fill="#cd2e3a"/><path d="M-16.9 0 A16.9 16.9 0 0 0 16.9 0 Z" fill="#0047a0"/><circle cx="-8.45" cy="0" r="8.45" fill="#cd2e3a"/><circle cx="8.45" cy="0" r="8.45" fill="#0047a0"/></g><g transform="translate(509 706.9) rotate(33.7)"><rect x="-27.95" y="-8.3" width="2.7" height="16.6" fill="#000"/><rect x="-32.05" y="-8.3" width="2.7" height="16.6" fill="#000"/><rect x="-36.15" y="-8.3" width="2.7" height="16.6" fill="#000"/></g><g transform="translate(509 706.9) rotate(146.3)"><rect x="-27.95" y="-8.3" width="2.7" height="16.6" fill="#000"/><rect x="-32.05" y="-8.3" width="2.7" height="7.6" fill="#000"/><rect x="-32.05" y="0.7" width="2.7" height="7.6" fill="#000"/><rect x="-36.15" y="-8.3" width="2.7" height="16.6" fill="#000"/></g><g transform="translate(509 706.9) rotate(-33.7)"><rect x="-27.95" y="-8.3" width="2.7" height="7.6" fill="#000"/><rect x="-27.95" y="0.7" width="2.7" height="7.6" fill="#000"/><rect x="-32.05" y="-8.3" width="2.7" height="16.6" fill="#000"/><rect x="-36.15" y="-8.3" width="2.7" height="7.6" fill="#000"/><rect x="-36.15" y="0.7" width="2.7" height="7.6" fill="#000"/></g><g transform="translate(509 706.9) rotate(213.7)"><rect x="-27.95" y="-8.3" width="2.7" height="7.6" fill="#000"/><rect x="-27.95" y="0.7" width="2.7" height="7.6" fill="#000"/><rect x="-32.05" y="-8.3" width="2.7" height="7.6" fill="#000"/><rect x="-32.05" y="0.7" width="2.7" height="7.6" fill="#000"/><rect x="-36.15" y="-8.3" width="2.7" height="7.6" fill="#000"/><rect x="-36.15" y="0.7" width="2.7" height="7.6" fill="#000"/></g></g><circle cx="509.3" cy="706.9" r="34.4" fill="none" stroke="#777" stroke-width="0.8"/>
<g clip-path="url(#fc5)"><rect x="576.2" y="672.8" width="68.2" height="68.2" fill="#fff"/><circle cx="610.3" cy="706.9" r="20.5" fill="#bc002d"/></g><circle cx="610.3" cy="706.9" r="34.1" fill="none" stroke="#777" stroke-width="0.8"/>
<g clip-path="url(#fc6)"><rect x="677.5" y="672.8" width="68.2" height="68.2" fill="#fff"/><rect x="677.5" y="672.8" width="68.2" height="22.9" fill="#f15b25"/><rect x="677.5" y="718" width="68.2" height="30" fill="#0b6b37"/><circle cx="711.6" cy="706.9" r="9.6" fill="#fff" stroke="#2e2f83" stroke-width="1.7"/><path d="M711.6 706.9L720.4 706.9M711.6 706.9L720.1 709.18M711.6 706.9L719.22 711.3M711.6 706.9L717.82 713.12M711.6 706.9L716 714.52M711.6 706.9L713.88 715.4M711.6 706.9L711.6 715.7M711.6 706.9L709.32 715.4M711.6 706.9L707.2 714.52M711.6 706.9L705.38 713.12M711.6 706.9L703.98 711.3M711.6 706.9L703.1 709.18M711.6 706.9L702.8 706.9M711.6 706.9L703.1 704.62M711.6 706.9L703.98 702.5M711.6 706.9L705.38 700.68M711.6 706.9L707.2 699.28M711.6 706.9L709.32 698.4M711.6 706.9L711.6 698.1M711.6 706.9L713.88 698.4M711.6 706.9L716 699.28M711.6 706.9L717.82 700.68M711.6 706.9L719.22 702.5M711.6 706.9L720.1 704.62" stroke="#2e2f83" stroke-width="0.9" fill="none"/><circle cx="711.6" cy="706.9" r="2.6" fill="#2e2f83"/></g><circle cx="711.6" cy="706.9" r="34.1" fill="none" stroke="#8a8a8a" stroke-width="0.7"/>
<g clip-path="url(#fc7)"><rect x="779" y="672.8" width="68.2" height="34.1" fill="#0057b7"/><rect x="779" y="706.9" width="68.2" height="34.1" fill="#ffd700"/></g><circle cx="813.2" cy="706.9" r="34.1" fill="none" stroke="#8a8a8a" stroke-width="0.7"/>
<g clip-path="url(#fc8)"><rect x="880.3" y="672.8" width="68.2" height="68.2" fill="#fff"/><polygon points="914.5,679 919.58,689.16 925.2,686.22 922.79,701.47 930.55,692.91 932.15,697.19 941.25,695.32 938.04,705.75 941.25,708.16 928.14,718.86 930.01,723.94 915.57,721.8 916.11,735.71 912.89,735.71 913.43,721.8 898.99,723.94 900.86,718.86 887.75,708.16 890.96,705.75 887.75,695.32 896.85,697.19 898.45,692.91 906.21,701.47 903.8,686.22 909.42,689.16" fill="#d52b1e"/></g><circle cx="914.4" cy="706.9" r="34.1" fill="none" stroke="#888" stroke-width="0.8"/>
<text x="104" y="795.4" font-size="16.3" fill="#333a3f" font-weight="bold" text-anchor="middle" textLength="33.2" lengthAdjust="spacingAndGlyphs">USA</text>
<text x="205.5" y="795.4" font-size="16.3" fill="#333a3f" font-weight="bold" text-anchor="middle" textLength="46.9" lengthAdjust="spacingAndGlyphs">China</text>
<text x="306.8" y="795.4" font-size="16.3" fill="#333a3f" font-weight="bold" text-anchor="middle" textLength="85.9" lengthAdjust="spacingAndGlyphs">Frankreich</text>
<text x="408.2" y="795.4" font-size="16.3" fill="#333a3f" font-weight="bold" text-anchor="middle" textLength="73.5" lengthAdjust="spacingAndGlyphs">Russland</text>
<text x="509.8" y="795.4" font-size="16.3" fill="#333a3f" font-weight="bold" text-anchor="middle" textLength="77.6" lengthAdjust="spacingAndGlyphs">Südkorea</text>
<text x="610.8" y="795.4" font-size="16.3" fill="#333a3f" font-weight="bold" text-anchor="middle" textLength="45.9" lengthAdjust="spacingAndGlyphs">Japan</text>
<text x="712.1" y="795.4" font-size="16.3" fill="#333a3f" font-weight="bold" text-anchor="middle" textLength="49.9" lengthAdjust="spacingAndGlyphs">Indien</text>
<text x="813.7" y="795.4" font-size="16.3" fill="#333a3f" font-weight="bold" text-anchor="middle" textLength="62.5" lengthAdjust="spacingAndGlyphs">Ukraine</text>
<text x="914.9" y="795.4" font-size="16.3" fill="#333a3f" font-weight="bold" text-anchor="middle" textLength="59.6" lengthAdjust="spacingAndGlyphs">Kanada</text>
</svg></body></html>
